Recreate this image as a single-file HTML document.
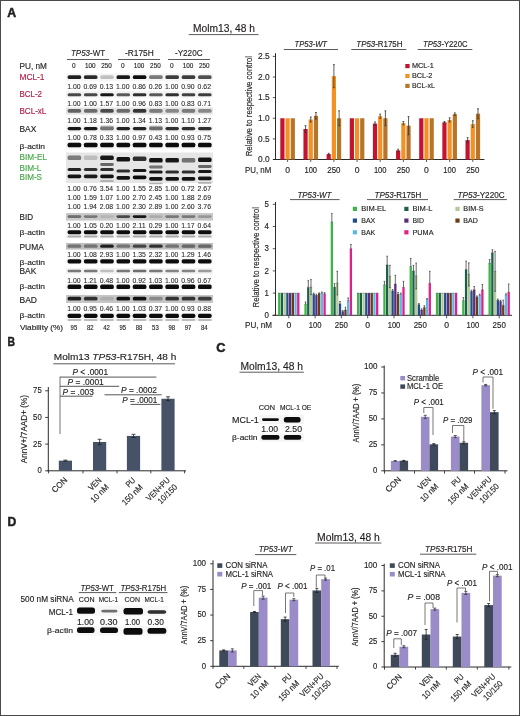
<!DOCTYPE html>
<html><head><meta charset="utf-8"><title>Figure</title>
<style>
html,body{margin:0;padding:0;background:#fff;}
#fig{position:relative;width:520px;height:716px;overflow:hidden;background:#fff;}
#fig svg{position:absolute;left:0;top:0;filter:blur(0.3px);}
text{font-family:"Liberation Sans",sans-serif;stroke:#231f20;stroke-width:0.15px;}
svg{fill:#231f20;}
</style></head><body>
<div id="fig">
<svg width="520" height="716" viewBox="0 0 520 716">
<defs><filter id="bl" x="-20%" y="-80%" width="140%" height="260%"><feGaussianBlur stdDeviation="0.65"/></filter></defs>
<rect x="0" y="0" width="520" height="716" fill="#fff"/>
<text x="7.30" y="17.00" font-size="12" font-weight="bold" textLength="8.90" lengthAdjust="spacingAndGlyphs" style="stroke-width:0.5px">A</text>
<text x="7.50" y="346.00" font-size="12" font-weight="bold" textLength="7.50" lengthAdjust="spacingAndGlyphs" style="stroke-width:0.5px">B</text>
<text x="216.30" y="352.00" font-size="12" font-weight="bold" textLength="9.20" lengthAdjust="spacingAndGlyphs" style="stroke-width:0.5px">C</text>
<text x="7.50" y="526.30" font-size="12" font-weight="bold" textLength="8.80" lengthAdjust="spacingAndGlyphs" style="stroke-width:0.5px">D</text>
<text x="193.10" y="31.70" font-size="10" textLength="61.90" lengthAdjust="spacingAndGlyphs">Molm13, 48 h</text>
<line x1="188.70" y1="34.60" x2="258.50" y2="34.60" stroke="#5a5a5a" stroke-width="1"/>
<text x="71.00" y="55.70" font-size="9.0" textLength="34.00" lengthAdjust="spacingAndGlyphs"><tspan font-style="italic">TP53</tspan>-WT</text>
<text x="125.00" y="55.70" font-size="9.0" textLength="28.75" lengthAdjust="spacingAndGlyphs">-R175H</text>
<text x="175.00" y="55.70" font-size="9.0" textLength="27.50" lengthAdjust="spacingAndGlyphs">-Y220C</text>
<line x1="67.00" y1="59.50" x2="109.00" y2="59.50" stroke="#5a5a5a" stroke-width="1"/>
<line x1="118.00" y1="59.50" x2="160.00" y2="59.50" stroke="#5a5a5a" stroke-width="1"/>
<line x1="168.00" y1="59.50" x2="210.00" y2="59.50" stroke="#5a5a5a" stroke-width="1"/>
<text x="19.50" y="68.50" font-size="8.4" textLength="27.50" lengthAdjust="spacingAndGlyphs">PU, nM</text>
<text x="73.90" y="68.30" font-size="7.0" text-anchor="middle" textLength="3.60" lengthAdjust="spacingAndGlyphs">0</text>
<text x="90.20" y="68.30" font-size="7.0" text-anchor="middle" textLength="10.60" lengthAdjust="spacingAndGlyphs">100</text>
<text x="106.50" y="68.30" font-size="7.0" text-anchor="middle" textLength="10.60" lengthAdjust="spacingAndGlyphs">250</text>
<text x="122.80" y="68.30" font-size="7.0" text-anchor="middle" textLength="3.60" lengthAdjust="spacingAndGlyphs">0</text>
<text x="139.10" y="68.30" font-size="7.0" text-anchor="middle" textLength="10.60" lengthAdjust="spacingAndGlyphs">100</text>
<text x="155.40" y="68.30" font-size="7.0" text-anchor="middle" textLength="10.60" lengthAdjust="spacingAndGlyphs">250</text>
<text x="171.70" y="68.30" font-size="7.0" text-anchor="middle" textLength="3.60" lengthAdjust="spacingAndGlyphs">0</text>
<text x="188.00" y="68.30" font-size="7.0" text-anchor="middle" textLength="10.60" lengthAdjust="spacingAndGlyphs">100</text>
<text x="204.30" y="68.30" font-size="7.0" text-anchor="middle" textLength="10.60" lengthAdjust="spacingAndGlyphs">250</text>
<text x="19.50" y="80.00" font-size="8.2" style="fill:#b81a42;stroke:#b81a42" textLength="25.00" lengthAdjust="spacingAndGlyphs">MCL-1</text>
<text x="19.50" y="97.40" font-size="8.2" style="fill:#b81a42;stroke:#b81a42" textLength="22.50" lengthAdjust="spacingAndGlyphs">BCL-2</text>
<text x="19.50" y="114.00" font-size="8.2" style="fill:#b81a42;stroke:#b81a42" textLength="26.80" lengthAdjust="spacingAndGlyphs">BCL-xL</text>
<text x="19.50" y="131.90" font-size="8.2" textLength="16.80" lengthAdjust="spacingAndGlyphs">BAX</text>
<text x="19.50" y="148.70" font-size="7.7" textLength="25.50" lengthAdjust="spacingAndGlyphs">β-actin</text>
<text x="19.50" y="159.50" font-size="8.2" style="fill:#45a847;stroke:#45a847" textLength="27.50" lengthAdjust="spacingAndGlyphs">BIM-EL</text>
<text x="19.50" y="170.60" font-size="8.2" style="fill:#45a847;stroke:#45a847" textLength="21.80" lengthAdjust="spacingAndGlyphs">BIM-L</text>
<text x="19.50" y="180.40" font-size="8.2" style="fill:#45a847;stroke:#45a847" textLength="22.50" lengthAdjust="spacingAndGlyphs">BIM-S</text>
<text x="19.50" y="219.50" font-size="8.2" textLength="13.50" lengthAdjust="spacingAndGlyphs">BID</text>
<text x="19.50" y="235.00" font-size="7.7" textLength="25.50" lengthAdjust="spacingAndGlyphs">β-actin</text>
<text x="19.50" y="250.00" font-size="8.2" textLength="24.30" lengthAdjust="spacingAndGlyphs">PUMA</text>
<text x="19.50" y="265.20" font-size="7.7" textLength="25.50" lengthAdjust="spacingAndGlyphs">β-actin</text>
<text x="19.50" y="274.00" font-size="8.2" textLength="16.80" lengthAdjust="spacingAndGlyphs">BAK</text>
<text x="19.50" y="289.30" font-size="7.7" textLength="25.50" lengthAdjust="spacingAndGlyphs">β-actin</text>
<text x="19.50" y="302.50" font-size="8.2" textLength="17.50" lengthAdjust="spacingAndGlyphs">BAD</text>
<text x="19.50" y="317.80" font-size="7.7" textLength="25.50" lengthAdjust="spacingAndGlyphs">β-actin</text>
<text x="20.00" y="330.20" font-size="7.8" textLength="43.00" lengthAdjust="spacingAndGlyphs">Viability (%)</text>
<text x="67.20" y="89.30" font-size="7.2" textLength="13.40" lengthAdjust="spacingAndGlyphs" style="stroke-width:0.08px">1.00</text>
<text x="83.50" y="89.30" font-size="7.2" textLength="13.40" lengthAdjust="spacingAndGlyphs" style="stroke-width:0.08px">0.69</text>
<text x="99.80" y="89.30" font-size="7.2" textLength="13.40" lengthAdjust="spacingAndGlyphs" style="stroke-width:0.08px">0.13</text>
<text x="116.10" y="89.30" font-size="7.2" textLength="13.40" lengthAdjust="spacingAndGlyphs" style="stroke-width:0.08px">1.00</text>
<text x="132.40" y="89.30" font-size="7.2" textLength="13.40" lengthAdjust="spacingAndGlyphs" style="stroke-width:0.08px">0.86</text>
<text x="148.70" y="89.30" font-size="7.2" textLength="13.40" lengthAdjust="spacingAndGlyphs" style="stroke-width:0.08px">0.26</text>
<text x="165.00" y="89.30" font-size="7.2" textLength="13.40" lengthAdjust="spacingAndGlyphs" style="stroke-width:0.08px">1.00</text>
<text x="181.30" y="89.30" font-size="7.2" textLength="13.40" lengthAdjust="spacingAndGlyphs" style="stroke-width:0.08px">0.90</text>
<text x="197.60" y="89.30" font-size="7.2" textLength="13.40" lengthAdjust="spacingAndGlyphs" style="stroke-width:0.08px">0.62</text>
<text x="67.20" y="106.30" font-size="7.2" textLength="13.40" lengthAdjust="spacingAndGlyphs" style="stroke-width:0.08px">1.00</text>
<text x="83.50" y="106.30" font-size="7.2" textLength="13.40" lengthAdjust="spacingAndGlyphs" style="stroke-width:0.08px">1.00</text>
<text x="99.80" y="106.30" font-size="7.2" textLength="13.40" lengthAdjust="spacingAndGlyphs" style="stroke-width:0.08px">1.57</text>
<text x="116.10" y="106.30" font-size="7.2" textLength="13.40" lengthAdjust="spacingAndGlyphs" style="stroke-width:0.08px">1.00</text>
<text x="132.40" y="106.30" font-size="7.2" textLength="13.40" lengthAdjust="spacingAndGlyphs" style="stroke-width:0.08px">0.96</text>
<text x="148.70" y="106.30" font-size="7.2" textLength="13.40" lengthAdjust="spacingAndGlyphs" style="stroke-width:0.08px">0.83</text>
<text x="165.00" y="106.30" font-size="7.2" textLength="13.40" lengthAdjust="spacingAndGlyphs" style="stroke-width:0.08px">1.00</text>
<text x="181.30" y="106.30" font-size="7.2" textLength="13.40" lengthAdjust="spacingAndGlyphs" style="stroke-width:0.08px">0.83</text>
<text x="197.60" y="106.30" font-size="7.2" textLength="13.40" lengthAdjust="spacingAndGlyphs" style="stroke-width:0.08px">0.71</text>
<text x="67.20" y="123.10" font-size="7.2" textLength="13.40" lengthAdjust="spacingAndGlyphs" style="stroke-width:0.08px">1.00</text>
<text x="83.50" y="123.10" font-size="7.2" textLength="13.40" lengthAdjust="spacingAndGlyphs" style="stroke-width:0.08px">1.18</text>
<text x="99.80" y="123.10" font-size="7.2" textLength="13.40" lengthAdjust="spacingAndGlyphs" style="stroke-width:0.08px">1.36</text>
<text x="116.10" y="123.10" font-size="7.2" textLength="13.40" lengthAdjust="spacingAndGlyphs" style="stroke-width:0.08px">1.00</text>
<text x="132.40" y="123.10" font-size="7.2" textLength="13.40" lengthAdjust="spacingAndGlyphs" style="stroke-width:0.08px">1.34</text>
<text x="148.70" y="123.10" font-size="7.2" textLength="13.40" lengthAdjust="spacingAndGlyphs" style="stroke-width:0.08px">1.13</text>
<text x="165.00" y="123.10" font-size="7.2" textLength="13.40" lengthAdjust="spacingAndGlyphs" style="stroke-width:0.08px">1.00</text>
<text x="181.30" y="123.10" font-size="7.2" textLength="13.40" lengthAdjust="spacingAndGlyphs" style="stroke-width:0.08px">1.10</text>
<text x="197.60" y="123.10" font-size="7.2" textLength="13.40" lengthAdjust="spacingAndGlyphs" style="stroke-width:0.08px">1.27</text>
<text x="67.20" y="140.30" font-size="7.2" textLength="13.40" lengthAdjust="spacingAndGlyphs" style="stroke-width:0.08px">1.00</text>
<text x="83.50" y="140.30" font-size="7.2" textLength="13.40" lengthAdjust="spacingAndGlyphs" style="stroke-width:0.08px">0.78</text>
<text x="99.80" y="140.30" font-size="7.2" textLength="13.40" lengthAdjust="spacingAndGlyphs" style="stroke-width:0.08px">0.33</text>
<text x="116.10" y="140.30" font-size="7.2" textLength="13.40" lengthAdjust="spacingAndGlyphs" style="stroke-width:0.08px">1.00</text>
<text x="132.40" y="140.30" font-size="7.2" textLength="13.40" lengthAdjust="spacingAndGlyphs" style="stroke-width:0.08px">0.97</text>
<text x="148.70" y="140.30" font-size="7.2" textLength="13.40" lengthAdjust="spacingAndGlyphs" style="stroke-width:0.08px">0.43</text>
<text x="165.00" y="140.30" font-size="7.2" textLength="13.40" lengthAdjust="spacingAndGlyphs" style="stroke-width:0.08px">1.00</text>
<text x="181.30" y="140.30" font-size="7.2" textLength="13.40" lengthAdjust="spacingAndGlyphs" style="stroke-width:0.08px">0.93</text>
<text x="197.60" y="140.30" font-size="7.2" textLength="13.40" lengthAdjust="spacingAndGlyphs" style="stroke-width:0.08px">0.75</text>
<text x="67.20" y="190.60" font-size="7.2" textLength="13.40" lengthAdjust="spacingAndGlyphs" style="stroke-width:0.08px">1.00</text>
<text x="83.50" y="190.60" font-size="7.2" textLength="13.40" lengthAdjust="spacingAndGlyphs" style="stroke-width:0.08px">0.76</text>
<text x="99.80" y="190.60" font-size="7.2" textLength="13.40" lengthAdjust="spacingAndGlyphs" style="stroke-width:0.08px">3.54</text>
<text x="116.10" y="190.60" font-size="7.2" textLength="13.40" lengthAdjust="spacingAndGlyphs" style="stroke-width:0.08px">1.00</text>
<text x="132.40" y="190.60" font-size="7.2" textLength="13.40" lengthAdjust="spacingAndGlyphs" style="stroke-width:0.08px">1.55</text>
<text x="148.70" y="190.60" font-size="7.2" textLength="13.40" lengthAdjust="spacingAndGlyphs" style="stroke-width:0.08px">2.85</text>
<text x="165.00" y="190.60" font-size="7.2" textLength="13.40" lengthAdjust="spacingAndGlyphs" style="stroke-width:0.08px">1.00</text>
<text x="181.30" y="190.60" font-size="7.2" textLength="13.40" lengthAdjust="spacingAndGlyphs" style="stroke-width:0.08px">0.72</text>
<text x="197.60" y="190.60" font-size="7.2" textLength="13.40" lengthAdjust="spacingAndGlyphs" style="stroke-width:0.08px">2.67</text>
<text x="67.20" y="199.80" font-size="7.2" textLength="13.40" lengthAdjust="spacingAndGlyphs" style="stroke-width:0.08px">1.00</text>
<text x="83.50" y="199.80" font-size="7.2" textLength="13.40" lengthAdjust="spacingAndGlyphs" style="stroke-width:0.08px">1.59</text>
<text x="99.80" y="199.80" font-size="7.2" textLength="13.40" lengthAdjust="spacingAndGlyphs" style="stroke-width:0.08px">1.07</text>
<text x="116.10" y="199.80" font-size="7.2" textLength="13.40" lengthAdjust="spacingAndGlyphs" style="stroke-width:0.08px">1.00</text>
<text x="132.40" y="199.80" font-size="7.2" textLength="13.40" lengthAdjust="spacingAndGlyphs" style="stroke-width:0.08px">2.70</text>
<text x="148.70" y="199.80" font-size="7.2" textLength="13.40" lengthAdjust="spacingAndGlyphs" style="stroke-width:0.08px">2.45</text>
<text x="165.00" y="199.80" font-size="7.2" textLength="13.40" lengthAdjust="spacingAndGlyphs" style="stroke-width:0.08px">1.00</text>
<text x="181.30" y="199.80" font-size="7.2" textLength="13.40" lengthAdjust="spacingAndGlyphs" style="stroke-width:0.08px">1.88</text>
<text x="197.60" y="199.80" font-size="7.2" textLength="13.40" lengthAdjust="spacingAndGlyphs" style="stroke-width:0.08px">2.69</text>
<text x="67.20" y="209.00" font-size="7.2" textLength="13.40" lengthAdjust="spacingAndGlyphs" style="stroke-width:0.08px">1.00</text>
<text x="83.50" y="209.00" font-size="7.2" textLength="13.40" lengthAdjust="spacingAndGlyphs" style="stroke-width:0.08px">1.94</text>
<text x="99.80" y="209.00" font-size="7.2" textLength="13.40" lengthAdjust="spacingAndGlyphs" style="stroke-width:0.08px">2.08</text>
<text x="116.10" y="209.00" font-size="7.2" textLength="13.40" lengthAdjust="spacingAndGlyphs" style="stroke-width:0.08px">1.00</text>
<text x="132.40" y="209.00" font-size="7.2" textLength="13.40" lengthAdjust="spacingAndGlyphs" style="stroke-width:0.08px">2.30</text>
<text x="148.70" y="209.00" font-size="7.2" textLength="13.40" lengthAdjust="spacingAndGlyphs" style="stroke-width:0.08px">2.89</text>
<text x="165.00" y="209.00" font-size="7.2" textLength="13.40" lengthAdjust="spacingAndGlyphs" style="stroke-width:0.08px">1.00</text>
<text x="181.30" y="209.00" font-size="7.2" textLength="13.40" lengthAdjust="spacingAndGlyphs" style="stroke-width:0.08px">2.60</text>
<text x="197.60" y="209.00" font-size="7.2" textLength="13.40" lengthAdjust="spacingAndGlyphs" style="stroke-width:0.08px">3.76</text>
<text x="67.20" y="228.10" font-size="7.2" textLength="13.40" lengthAdjust="spacingAndGlyphs" style="stroke-width:0.08px">1.00</text>
<text x="83.50" y="228.10" font-size="7.2" textLength="13.40" lengthAdjust="spacingAndGlyphs" style="stroke-width:0.08px">1.05</text>
<text x="99.80" y="228.10" font-size="7.2" textLength="13.40" lengthAdjust="spacingAndGlyphs" style="stroke-width:0.08px">0.20</text>
<text x="116.10" y="228.10" font-size="7.2" textLength="13.40" lengthAdjust="spacingAndGlyphs" style="stroke-width:0.08px">1.00</text>
<text x="132.40" y="228.10" font-size="7.2" textLength="13.40" lengthAdjust="spacingAndGlyphs" style="stroke-width:0.08px">2.11</text>
<text x="148.70" y="228.10" font-size="7.2" textLength="13.40" lengthAdjust="spacingAndGlyphs" style="stroke-width:0.08px">0.29</text>
<text x="165.00" y="228.10" font-size="7.2" textLength="13.40" lengthAdjust="spacingAndGlyphs" style="stroke-width:0.08px">1.00</text>
<text x="181.30" y="228.10" font-size="7.2" textLength="13.40" lengthAdjust="spacingAndGlyphs" style="stroke-width:0.08px">1.17</text>
<text x="197.60" y="228.10" font-size="7.2" textLength="13.40" lengthAdjust="spacingAndGlyphs" style="stroke-width:0.08px">0.64</text>
<text x="67.20" y="257.30" font-size="7.2" textLength="13.40" lengthAdjust="spacingAndGlyphs" style="stroke-width:0.08px">1.00</text>
<text x="83.50" y="257.30" font-size="7.2" textLength="13.40" lengthAdjust="spacingAndGlyphs" style="stroke-width:0.08px">1.08</text>
<text x="99.80" y="257.30" font-size="7.2" textLength="13.40" lengthAdjust="spacingAndGlyphs" style="stroke-width:0.08px">2.93</text>
<text x="116.10" y="257.30" font-size="7.2" textLength="13.40" lengthAdjust="spacingAndGlyphs" style="stroke-width:0.08px">1.00</text>
<text x="132.40" y="257.30" font-size="7.2" textLength="13.40" lengthAdjust="spacingAndGlyphs" style="stroke-width:0.08px">1.35</text>
<text x="148.70" y="257.30" font-size="7.2" textLength="13.40" lengthAdjust="spacingAndGlyphs" style="stroke-width:0.08px">2.32</text>
<text x="165.00" y="257.30" font-size="7.2" textLength="13.40" lengthAdjust="spacingAndGlyphs" style="stroke-width:0.08px">1.00</text>
<text x="181.30" y="257.30" font-size="7.2" textLength="13.40" lengthAdjust="spacingAndGlyphs" style="stroke-width:0.08px">1.29</text>
<text x="197.60" y="257.30" font-size="7.2" textLength="13.40" lengthAdjust="spacingAndGlyphs" style="stroke-width:0.08px">1.46</text>
<text x="67.20" y="283.00" font-size="7.2" textLength="13.40" lengthAdjust="spacingAndGlyphs" style="stroke-width:0.08px">1.00</text>
<text x="83.50" y="283.00" font-size="7.2" textLength="13.40" lengthAdjust="spacingAndGlyphs" style="stroke-width:0.08px">1.21</text>
<text x="99.80" y="283.00" font-size="7.2" textLength="13.40" lengthAdjust="spacingAndGlyphs" style="stroke-width:0.08px">0.48</text>
<text x="116.10" y="283.00" font-size="7.2" textLength="13.40" lengthAdjust="spacingAndGlyphs" style="stroke-width:0.08px">1.00</text>
<text x="132.40" y="283.00" font-size="7.2" textLength="13.40" lengthAdjust="spacingAndGlyphs" style="stroke-width:0.08px">0.92</text>
<text x="148.70" y="283.00" font-size="7.2" textLength="13.40" lengthAdjust="spacingAndGlyphs" style="stroke-width:0.08px">1.03</text>
<text x="165.00" y="283.00" font-size="7.2" textLength="13.40" lengthAdjust="spacingAndGlyphs" style="stroke-width:0.08px">1.00</text>
<text x="181.30" y="283.00" font-size="7.2" textLength="13.40" lengthAdjust="spacingAndGlyphs" style="stroke-width:0.08px">0.96</text>
<text x="197.60" y="283.00" font-size="7.2" textLength="13.40" lengthAdjust="spacingAndGlyphs" style="stroke-width:0.08px">0.67</text>
<text x="67.20" y="311.30" font-size="7.2" textLength="13.40" lengthAdjust="spacingAndGlyphs" style="stroke-width:0.08px">1.00</text>
<text x="83.50" y="311.30" font-size="7.2" textLength="13.40" lengthAdjust="spacingAndGlyphs" style="stroke-width:0.08px">0.95</text>
<text x="99.80" y="311.30" font-size="7.2" textLength="13.40" lengthAdjust="spacingAndGlyphs" style="stroke-width:0.08px">0.46</text>
<text x="116.10" y="311.30" font-size="7.2" textLength="13.40" lengthAdjust="spacingAndGlyphs" style="stroke-width:0.08px">1.00</text>
<text x="132.40" y="311.30" font-size="7.2" textLength="13.40" lengthAdjust="spacingAndGlyphs" style="stroke-width:0.08px">1.03</text>
<text x="148.70" y="311.30" font-size="7.2" textLength="13.40" lengthAdjust="spacingAndGlyphs" style="stroke-width:0.08px">0.37</text>
<text x="165.00" y="311.30" font-size="7.2" textLength="13.40" lengthAdjust="spacingAndGlyphs" style="stroke-width:0.08px">1.00</text>
<text x="181.30" y="311.30" font-size="7.2" textLength="13.40" lengthAdjust="spacingAndGlyphs" style="stroke-width:0.08px">0.93</text>
<text x="197.60" y="311.30" font-size="7.2" textLength="13.40" lengthAdjust="spacingAndGlyphs" style="stroke-width:0.08px">0.88</text>
<text x="73.90" y="330.40" font-size="6.9" text-anchor="middle" textLength="6.60" lengthAdjust="spacingAndGlyphs">95</text>
<text x="90.20" y="330.40" font-size="6.9" text-anchor="middle" textLength="6.60" lengthAdjust="spacingAndGlyphs">82</text>
<text x="106.50" y="330.40" font-size="6.9" text-anchor="middle" textLength="6.60" lengthAdjust="spacingAndGlyphs">42</text>
<text x="122.80" y="330.40" font-size="6.9" text-anchor="middle" textLength="6.60" lengthAdjust="spacingAndGlyphs">95</text>
<text x="139.10" y="330.40" font-size="6.9" text-anchor="middle" textLength="6.60" lengthAdjust="spacingAndGlyphs">88</text>
<text x="155.40" y="330.40" font-size="6.9" text-anchor="middle" textLength="6.60" lengthAdjust="spacingAndGlyphs">53</text>
<text x="171.70" y="330.40" font-size="6.9" text-anchor="middle" textLength="6.60" lengthAdjust="spacingAndGlyphs">98</text>
<text x="188.00" y="330.40" font-size="6.9" text-anchor="middle" textLength="6.60" lengthAdjust="spacingAndGlyphs">97</text>
<text x="204.30" y="330.40" font-size="6.9" text-anchor="middle" textLength="6.60" lengthAdjust="spacingAndGlyphs">84</text>
<rect x="66.00" y="73.20" width="147.00" height="8.00" fill="#f6f6f6"/>
<rect x="67.60" y="75.30" width="13.60" height="3.80" rx="1.60" ry="1.60" fill="#111" fill-opacity="0.92" filter="url(#bl)"/>
<rect x="83.90" y="75.30" width="13.60" height="3.80" rx="1.60" ry="1.60" fill="#111" fill-opacity="0.88" filter="url(#bl)"/>
<rect x="100.20" y="75.30" width="13.60" height="3.80" rx="1.60" ry="1.60" fill="#111" fill-opacity="0.22" filter="url(#bl)"/>
<rect x="116.50" y="75.30" width="13.60" height="3.80" rx="1.60" ry="1.60" fill="#111" fill-opacity="0.95" filter="url(#bl)"/>
<rect x="132.80" y="75.30" width="13.60" height="3.80" rx="1.60" ry="1.60" fill="#111" fill-opacity="1.00" filter="url(#bl)"/>
<rect x="149.10" y="75.30" width="13.60" height="3.80" rx="1.60" ry="1.60" fill="#111" fill-opacity="0.55" filter="url(#bl)"/>
<rect x="165.40" y="75.30" width="13.60" height="3.80" rx="1.60" ry="1.60" fill="#111" fill-opacity="0.80" filter="url(#bl)"/>
<rect x="181.70" y="75.30" width="13.60" height="3.80" rx="1.60" ry="1.60" fill="#111" fill-opacity="0.80" filter="url(#bl)"/>
<rect x="198.00" y="75.30" width="13.60" height="3.80" rx="1.60" ry="1.60" fill="#111" fill-opacity="0.72" filter="url(#bl)"/>
<rect x="66.00" y="90.80" width="147.00" height="6.80" fill="#f3f3f3"/>
<rect x="67.60" y="93.30" width="13.60" height="3.00" rx="1.50" ry="1.50" fill="#111" fill-opacity="0.75" filter="url(#bl)"/>
<rect x="83.90" y="93.30" width="13.60" height="3.00" rx="1.50" ry="1.50" fill="#111" fill-opacity="0.75" filter="url(#bl)"/>
<rect x="100.20" y="93.30" width="13.60" height="3.00" rx="1.50" ry="1.50" fill="#111" fill-opacity="0.95" filter="url(#bl)"/>
<rect x="116.50" y="93.30" width="13.60" height="3.00" rx="1.50" ry="1.50" fill="#111" fill-opacity="0.68" filter="url(#bl)"/>
<rect x="132.80" y="93.30" width="13.60" height="3.00" rx="1.50" ry="1.50" fill="#111" fill-opacity="0.85" filter="url(#bl)"/>
<rect x="149.10" y="93.30" width="13.60" height="3.00" rx="1.50" ry="1.50" fill="#111" fill-opacity="0.68" filter="url(#bl)"/>
<rect x="165.40" y="93.30" width="13.60" height="3.00" rx="1.50" ry="1.50" fill="#111" fill-opacity="0.85" filter="url(#bl)"/>
<rect x="181.70" y="93.30" width="13.60" height="3.00" rx="1.50" ry="1.50" fill="#111" fill-opacity="0.78" filter="url(#bl)"/>
<rect x="198.00" y="93.30" width="13.60" height="3.00" rx="1.50" ry="1.50" fill="#111" fill-opacity="0.80" filter="url(#bl)"/>
<rect x="66.00" y="107.40" width="147.00" height="7.20" fill="#e4e4e4"/>
<rect x="67.60" y="109.10" width="13.60" height="3.60" rx="1.60" ry="1.60" fill="#111" fill-opacity="0.62" filter="url(#bl)"/>
<rect x="83.90" y="109.10" width="13.60" height="3.60" rx="1.60" ry="1.60" fill="#111" fill-opacity="0.58" filter="url(#bl)"/>
<rect x="100.20" y="109.10" width="13.60" height="3.60" rx="1.60" ry="1.60" fill="#111" fill-opacity="0.72" filter="url(#bl)"/>
<rect x="116.50" y="109.10" width="13.60" height="3.60" rx="1.60" ry="1.60" fill="#111" fill-opacity="0.58" filter="url(#bl)"/>
<rect x="132.80" y="109.10" width="13.60" height="3.60" rx="1.60" ry="1.60" fill="#111" fill-opacity="0.82" filter="url(#bl)"/>
<rect x="149.10" y="109.10" width="13.60" height="3.60" rx="1.60" ry="1.60" fill="#111" fill-opacity="0.50" filter="url(#bl)"/>
<rect x="165.40" y="109.10" width="13.60" height="3.60" rx="1.60" ry="1.60" fill="#111" fill-opacity="0.45" filter="url(#bl)"/>
<rect x="181.70" y="109.10" width="13.60" height="3.60" rx="1.60" ry="1.60" fill="#111" fill-opacity="0.50" filter="url(#bl)"/>
<rect x="198.00" y="109.10" width="13.60" height="3.60" rx="1.60" ry="1.60" fill="#111" fill-opacity="0.45" filter="url(#bl)"/>
<rect x="66.00" y="125.20" width="147.00" height="6.80" fill="#f2f2f2"/>
<rect x="67.60" y="127.00" width="13.60" height="3.20" rx="1.60" ry="1.60" fill="#111" fill-opacity="0.95" filter="url(#bl)"/>
<rect x="83.90" y="127.00" width="13.60" height="3.20" rx="1.60" ry="1.60" fill="#111" fill-opacity="0.95" filter="url(#bl)"/>
<rect x="100.20" y="127.00" width="13.60" height="3.20" rx="1.60" ry="1.60" fill="#111" fill-opacity="0.35" filter="url(#bl)"/>
<rect x="116.50" y="127.00" width="13.60" height="3.20" rx="1.60" ry="1.60" fill="#111" fill-opacity="0.90" filter="url(#bl)"/>
<rect x="132.80" y="127.00" width="13.60" height="3.20" rx="1.60" ry="1.60" fill="#111" fill-opacity="0.90" filter="url(#bl)"/>
<rect x="149.10" y="127.00" width="13.60" height="3.20" rx="1.60" ry="1.60" fill="#111" fill-opacity="0.40" filter="url(#bl)"/>
<rect x="165.40" y="127.00" width="13.60" height="3.20" rx="1.60" ry="1.60" fill="#111" fill-opacity="0.85" filter="url(#bl)"/>
<rect x="181.70" y="127.00" width="13.60" height="3.20" rx="1.60" ry="1.60" fill="#111" fill-opacity="0.85" filter="url(#bl)"/>
<rect x="198.00" y="127.00" width="13.60" height="3.20" rx="1.60" ry="1.60" fill="#111" fill-opacity="0.85" filter="url(#bl)"/>
<rect x="100.20" y="125.75" width="13.60" height="4.50" rx="1.60" ry="1.60" fill="#111" fill-opacity="0.35" filter="url(#bl)"/>
<rect x="149.10" y="125.75" width="13.60" height="4.50" rx="1.60" ry="1.60" fill="#111" fill-opacity="0.30" filter="url(#bl)"/>
<rect x="66.00" y="142.20" width="147.00" height="7.00" fill="#f5f5f5"/>
<rect x="67.60" y="142.70" width="13.60" height="4.60" rx="1.60" ry="1.60" fill="#111" fill-opacity="1.00" filter="url(#bl)"/>
<rect x="83.90" y="142.70" width="13.60" height="4.60" rx="1.60" ry="1.60" fill="#111" fill-opacity="1.00" filter="url(#bl)"/>
<rect x="100.20" y="142.70" width="13.60" height="4.60" rx="1.60" ry="1.60" fill="#111" fill-opacity="1.00" filter="url(#bl)"/>
<rect x="116.50" y="142.70" width="13.60" height="4.60" rx="1.60" ry="1.60" fill="#111" fill-opacity="1.00" filter="url(#bl)"/>
<rect x="132.80" y="142.70" width="13.60" height="4.60" rx="1.60" ry="1.60" fill="#111" fill-opacity="1.00" filter="url(#bl)"/>
<rect x="149.10" y="142.70" width="13.60" height="4.60" rx="1.60" ry="1.60" fill="#111" fill-opacity="1.00" filter="url(#bl)"/>
<rect x="165.40" y="142.70" width="13.60" height="4.60" rx="1.60" ry="1.60" fill="#111" fill-opacity="1.00" filter="url(#bl)"/>
<rect x="181.70" y="142.70" width="13.60" height="4.60" rx="1.60" ry="1.60" fill="#111" fill-opacity="1.00" filter="url(#bl)"/>
<rect x="198.00" y="142.70" width="13.60" height="4.60" rx="1.60" ry="1.60" fill="#111" fill-opacity="1.00" filter="url(#bl)"/>
<rect x="66.00" y="152.50" width="147.00" height="30.50" fill="#e6e6e6"/>
<rect x="67.60" y="155.60" width="13.60" height="4.40" rx="1.60" ry="1.60" fill="#111" fill-opacity="0.50" filter="url(#bl)"/>
<rect x="83.90" y="155.60" width="13.60" height="4.40" rx="1.60" ry="1.60" fill="#111" fill-opacity="0.18" filter="url(#bl)"/>
<rect x="100.20" y="155.60" width="13.60" height="4.40" rx="1.60" ry="1.60" fill="#111" fill-opacity="0.95" filter="url(#bl)"/>
<rect x="116.50" y="157.10" width="13.60" height="4.40" rx="1.60" ry="1.60" fill="#111" fill-opacity="0.97" filter="url(#bl)"/>
<rect x="132.80" y="156.60" width="13.60" height="4.40" rx="1.60" ry="1.60" fill="#111" fill-opacity="0.85" filter="url(#bl)"/>
<rect x="149.10" y="158.10" width="13.60" height="4.40" rx="1.60" ry="1.60" fill="#111" fill-opacity="0.97" filter="url(#bl)"/>
<rect x="165.40" y="158.10" width="13.60" height="4.40" rx="1.60" ry="1.60" fill="#111" fill-opacity="0.95" filter="url(#bl)"/>
<rect x="181.70" y="158.10" width="13.60" height="4.40" rx="1.60" ry="1.60" fill="#111" fill-opacity="0.55" filter="url(#bl)"/>
<rect x="198.00" y="157.60" width="13.60" height="4.40" rx="1.60" ry="1.60" fill="#111" fill-opacity="0.97" filter="url(#bl)"/>
<rect x="100.20" y="163.10" width="13.60" height="2.80" rx="1.40" ry="1.40" fill="#111" fill-opacity="0.60" filter="url(#bl)"/>
<rect x="149.10" y="165.60" width="13.60" height="2.80" rx="1.40" ry="1.40" fill="#111" fill-opacity="0.55" filter="url(#bl)"/>
<rect x="198.00" y="165.10" width="13.60" height="2.80" rx="1.40" ry="1.40" fill="#111" fill-opacity="0.60" filter="url(#bl)"/>
<rect x="67.60" y="167.90" width="13.60" height="3.20" rx="1.60" ry="1.60" fill="#111" fill-opacity="0.90" filter="url(#bl)"/>
<rect x="83.90" y="167.90" width="13.60" height="3.20" rx="1.60" ry="1.60" fill="#111" fill-opacity="0.85" filter="url(#bl)"/>
<rect x="100.20" y="167.90" width="13.60" height="3.20" rx="1.60" ry="1.60" fill="#111" fill-opacity="0.85" filter="url(#bl)"/>
<rect x="116.50" y="169.40" width="13.60" height="3.20" rx="1.60" ry="1.60" fill="#111" fill-opacity="0.85" filter="url(#bl)"/>
<rect x="132.80" y="168.90" width="13.60" height="3.20" rx="1.60" ry="1.60" fill="#111" fill-opacity="0.95" filter="url(#bl)"/>
<rect x="149.10" y="170.40" width="13.60" height="3.20" rx="1.60" ry="1.60" fill="#111" fill-opacity="0.95" filter="url(#bl)"/>
<rect x="165.40" y="170.40" width="13.60" height="3.20" rx="1.60" ry="1.60" fill="#111" fill-opacity="0.85" filter="url(#bl)"/>
<rect x="181.70" y="170.40" width="13.60" height="3.20" rx="1.60" ry="1.60" fill="#111" fill-opacity="0.85" filter="url(#bl)"/>
<rect x="198.00" y="169.90" width="13.60" height="3.20" rx="1.60" ry="1.60" fill="#111" fill-opacity="0.95" filter="url(#bl)"/>
<rect x="67.60" y="174.40" width="13.60" height="3.80" rx="1.60" ry="1.60" fill="#111" fill-opacity="0.97" filter="url(#bl)"/>
<rect x="83.90" y="174.40" width="13.60" height="3.80" rx="1.60" ry="1.60" fill="#111" fill-opacity="0.93" filter="url(#bl)"/>
<rect x="100.20" y="174.40" width="13.60" height="3.80" rx="1.60" ry="1.60" fill="#111" fill-opacity="0.97" filter="url(#bl)"/>
<rect x="116.50" y="175.90" width="13.60" height="3.80" rx="1.60" ry="1.60" fill="#111" fill-opacity="0.97" filter="url(#bl)"/>
<rect x="132.80" y="175.40" width="13.60" height="3.80" rx="1.60" ry="1.60" fill="#111" fill-opacity="1.00" filter="url(#bl)"/>
<rect x="149.10" y="176.90" width="13.60" height="3.80" rx="1.60" ry="1.60" fill="#111" fill-opacity="0.97" filter="url(#bl)"/>
<rect x="165.40" y="176.90" width="13.60" height="3.80" rx="1.60" ry="1.60" fill="#111" fill-opacity="0.97" filter="url(#bl)"/>
<rect x="181.70" y="176.90" width="13.60" height="3.80" rx="1.60" ry="1.60" fill="#111" fill-opacity="0.97" filter="url(#bl)"/>
<rect x="198.00" y="176.40" width="13.60" height="3.80" rx="1.60" ry="1.60" fill="#111" fill-opacity="0.97" filter="url(#bl)"/>
<rect x="100.20" y="180.20" width="13.60" height="1.60" rx="0.80" ry="0.80" fill="#111" fill-opacity="0.30" filter="url(#bl)"/>
<rect x="149.10" y="182.70" width="13.60" height="1.60" rx="0.80" ry="0.80" fill="#111" fill-opacity="0.30" filter="url(#bl)"/>
<rect x="198.00" y="182.20" width="13.60" height="1.60" rx="0.80" ry="0.80" fill="#111" fill-opacity="0.30" filter="url(#bl)"/>
<rect x="66.00" y="213.00" width="147.00" height="7.60" fill="#c9c9c9"/>
<rect x="67.60" y="215.20" width="13.60" height="2.80" rx="1.40" ry="1.40" fill="#111" fill-opacity="0.50" filter="url(#bl)"/>
<rect x="83.90" y="215.20" width="13.60" height="2.80" rx="1.40" ry="1.40" fill="#111" fill-opacity="0.45" filter="url(#bl)"/>
<rect x="100.20" y="215.20" width="13.60" height="2.80" rx="1.40" ry="1.40" fill="#111" fill-opacity="0.10" filter="url(#bl)"/>
<rect x="116.50" y="215.20" width="13.60" height="2.80" rx="1.40" ry="1.40" fill="#111" fill-opacity="0.70" filter="url(#bl)"/>
<rect x="132.80" y="215.20" width="13.60" height="2.80" rx="1.40" ry="1.40" fill="#111" fill-opacity="0.95" filter="url(#bl)"/>
<rect x="149.10" y="215.20" width="13.60" height="2.80" rx="1.40" ry="1.40" fill="#111" fill-opacity="0.15" filter="url(#bl)"/>
<rect x="165.40" y="215.20" width="13.60" height="2.80" rx="1.40" ry="1.40" fill="#111" fill-opacity="0.45" filter="url(#bl)"/>
<rect x="181.70" y="215.20" width="13.60" height="2.80" rx="1.40" ry="1.40" fill="#111" fill-opacity="0.45" filter="url(#bl)"/>
<rect x="198.00" y="215.20" width="13.60" height="2.80" rx="1.40" ry="1.40" fill="#111" fill-opacity="0.25" filter="url(#bl)"/>
<rect x="66.00" y="229.50" width="147.00" height="8.80" fill="#f4f4f4"/>
<rect x="67.60" y="230.20" width="13.60" height="4.00" rx="1.60" ry="1.60" fill="#111" fill-opacity="1.00" filter="url(#bl)"/>
<rect x="83.90" y="230.20" width="13.60" height="4.00" rx="1.60" ry="1.60" fill="#111" fill-opacity="1.00" filter="url(#bl)"/>
<rect x="100.20" y="230.20" width="13.60" height="4.00" rx="1.60" ry="1.60" fill="#111" fill-opacity="1.00" filter="url(#bl)"/>
<rect x="116.50" y="230.20" width="13.60" height="4.00" rx="1.60" ry="1.60" fill="#111" fill-opacity="1.00" filter="url(#bl)"/>
<rect x="132.80" y="230.20" width="13.60" height="4.00" rx="1.60" ry="1.60" fill="#111" fill-opacity="1.00" filter="url(#bl)"/>
<rect x="149.10" y="230.20" width="13.60" height="4.00" rx="1.60" ry="1.60" fill="#111" fill-opacity="1.00" filter="url(#bl)"/>
<rect x="165.40" y="230.20" width="13.60" height="4.00" rx="1.60" ry="1.60" fill="#111" fill-opacity="1.00" filter="url(#bl)"/>
<rect x="181.70" y="230.20" width="13.60" height="4.00" rx="1.60" ry="1.60" fill="#111" fill-opacity="1.00" filter="url(#bl)"/>
<rect x="198.00" y="230.20" width="13.60" height="4.00" rx="1.60" ry="1.60" fill="#111" fill-opacity="1.00" filter="url(#bl)"/>
<rect x="67.60" y="235.60" width="13.60" height="1.80" rx="0.90" ry="0.90" fill="#111" fill-opacity="0.30" filter="url(#bl)"/>
<rect x="83.90" y="235.60" width="13.60" height="1.80" rx="0.90" ry="0.90" fill="#111" fill-opacity="0.30" filter="url(#bl)"/>
<rect x="100.20" y="235.60" width="13.60" height="1.80" rx="0.90" ry="0.90" fill="#111" fill-opacity="0.30" filter="url(#bl)"/>
<rect x="116.50" y="235.60" width="13.60" height="1.80" rx="0.90" ry="0.90" fill="#111" fill-opacity="0.30" filter="url(#bl)"/>
<rect x="132.80" y="235.60" width="13.60" height="1.80" rx="0.90" ry="0.90" fill="#111" fill-opacity="0.30" filter="url(#bl)"/>
<rect x="149.10" y="235.60" width="13.60" height="1.80" rx="0.90" ry="0.90" fill="#111" fill-opacity="0.30" filter="url(#bl)"/>
<rect x="165.40" y="235.60" width="13.60" height="1.80" rx="0.90" ry="0.90" fill="#111" fill-opacity="0.30" filter="url(#bl)"/>
<rect x="181.70" y="235.60" width="13.60" height="1.80" rx="0.90" ry="0.90" fill="#111" fill-opacity="0.30" filter="url(#bl)"/>
<rect x="198.00" y="235.60" width="13.60" height="1.80" rx="0.90" ry="0.90" fill="#111" fill-opacity="0.30" filter="url(#bl)"/>
<rect x="66.00" y="243.00" width="147.00" height="6.60" fill="#bebebe"/>
<rect x="67.60" y="244.60" width="13.60" height="3.20" rx="1.60" ry="1.60" fill="#111" fill-opacity="0.45" filter="url(#bl)"/>
<rect x="83.90" y="244.60" width="13.60" height="3.20" rx="1.60" ry="1.60" fill="#111" fill-opacity="0.45" filter="url(#bl)"/>
<rect x="100.20" y="244.60" width="13.60" height="3.20" rx="1.60" ry="1.60" fill="#111" fill-opacity="0.90" filter="url(#bl)"/>
<rect x="116.50" y="244.60" width="13.60" height="3.20" rx="1.60" ry="1.60" fill="#111" fill-opacity="0.45" filter="url(#bl)"/>
<rect x="132.80" y="244.60" width="13.60" height="3.20" rx="1.60" ry="1.60" fill="#111" fill-opacity="0.70" filter="url(#bl)"/>
<rect x="149.10" y="244.60" width="13.60" height="3.20" rx="1.60" ry="1.60" fill="#111" fill-opacity="0.80" filter="url(#bl)"/>
<rect x="165.40" y="244.60" width="13.60" height="3.20" rx="1.60" ry="1.60" fill="#111" fill-opacity="0.45" filter="url(#bl)"/>
<rect x="181.70" y="244.60" width="13.60" height="3.20" rx="1.60" ry="1.60" fill="#111" fill-opacity="0.50" filter="url(#bl)"/>
<rect x="198.00" y="244.60" width="13.60" height="3.20" rx="1.60" ry="1.60" fill="#111" fill-opacity="0.50" filter="url(#bl)"/>
<rect x="66.00" y="258.60" width="147.00" height="5.80" fill="#f5f5f5"/>
<rect x="67.60" y="259.20" width="13.60" height="4.20" rx="1.60" ry="1.60" fill="#111" fill-opacity="1.00" filter="url(#bl)"/>
<rect x="83.90" y="259.20" width="13.60" height="4.20" rx="1.60" ry="1.60" fill="#111" fill-opacity="1.00" filter="url(#bl)"/>
<rect x="100.20" y="259.20" width="13.60" height="4.20" rx="1.60" ry="1.60" fill="#111" fill-opacity="1.00" filter="url(#bl)"/>
<rect x="116.50" y="259.20" width="13.60" height="4.20" rx="1.60" ry="1.60" fill="#111" fill-opacity="1.00" filter="url(#bl)"/>
<rect x="132.80" y="259.20" width="13.60" height="4.20" rx="1.60" ry="1.60" fill="#111" fill-opacity="1.00" filter="url(#bl)"/>
<rect x="149.10" y="259.20" width="13.60" height="4.20" rx="1.60" ry="1.60" fill="#111" fill-opacity="1.00" filter="url(#bl)"/>
<rect x="165.40" y="259.20" width="13.60" height="4.20" rx="1.60" ry="1.60" fill="#111" fill-opacity="1.00" filter="url(#bl)"/>
<rect x="181.70" y="259.20" width="13.60" height="4.20" rx="1.60" ry="1.60" fill="#111" fill-opacity="1.00" filter="url(#bl)"/>
<rect x="198.00" y="259.20" width="13.60" height="4.20" rx="1.60" ry="1.60" fill="#111" fill-opacity="1.00" filter="url(#bl)"/>
<rect x="66.00" y="268.00" width="147.00" height="6.20" fill="#f3f3f3"/>
<rect x="67.60" y="269.80" width="13.60" height="2.40" rx="1.20" ry="1.20" fill="#111" fill-opacity="0.55" filter="url(#bl)"/>
<rect x="83.90" y="269.80" width="13.60" height="2.40" rx="1.20" ry="1.20" fill="#111" fill-opacity="0.55" filter="url(#bl)"/>
<rect x="100.20" y="269.80" width="13.60" height="2.40" rx="1.20" ry="1.20" fill="#111" fill-opacity="0.22" filter="url(#bl)"/>
<rect x="116.50" y="269.80" width="13.60" height="2.40" rx="1.20" ry="1.20" fill="#111" fill-opacity="0.55" filter="url(#bl)"/>
<rect x="132.80" y="269.80" width="13.60" height="2.40" rx="1.20" ry="1.20" fill="#111" fill-opacity="0.60" filter="url(#bl)"/>
<rect x="149.10" y="269.80" width="13.60" height="2.40" rx="1.20" ry="1.20" fill="#111" fill-opacity="0.55" filter="url(#bl)"/>
<rect x="165.40" y="269.80" width="13.60" height="2.40" rx="1.20" ry="1.20" fill="#111" fill-opacity="0.50" filter="url(#bl)"/>
<rect x="181.70" y="269.80" width="13.60" height="2.40" rx="1.20" ry="1.20" fill="#111" fill-opacity="0.50" filter="url(#bl)"/>
<rect x="198.00" y="269.80" width="13.60" height="2.40" rx="1.20" ry="1.20" fill="#111" fill-opacity="0.40" filter="url(#bl)"/>
<rect x="66.00" y="284.00" width="147.00" height="6.20" fill="#f5f5f5"/>
<rect x="67.60" y="284.60" width="13.60" height="4.40" rx="1.60" ry="1.60" fill="#111" fill-opacity="1.00" filter="url(#bl)"/>
<rect x="83.90" y="284.60" width="13.60" height="4.40" rx="1.60" ry="1.60" fill="#111" fill-opacity="1.00" filter="url(#bl)"/>
<rect x="100.20" y="284.60" width="13.60" height="4.40" rx="1.60" ry="1.60" fill="#111" fill-opacity="1.00" filter="url(#bl)"/>
<rect x="116.50" y="284.60" width="13.60" height="4.40" rx="1.60" ry="1.60" fill="#111" fill-opacity="1.00" filter="url(#bl)"/>
<rect x="132.80" y="284.60" width="13.60" height="4.40" rx="1.60" ry="1.60" fill="#111" fill-opacity="1.00" filter="url(#bl)"/>
<rect x="149.10" y="284.60" width="13.60" height="4.40" rx="1.60" ry="1.60" fill="#111" fill-opacity="1.00" filter="url(#bl)"/>
<rect x="165.40" y="284.60" width="13.60" height="4.40" rx="1.60" ry="1.60" fill="#111" fill-opacity="1.00" filter="url(#bl)"/>
<rect x="181.70" y="284.60" width="13.60" height="4.40" rx="1.60" ry="1.60" fill="#111" fill-opacity="1.00" filter="url(#bl)"/>
<rect x="198.00" y="284.60" width="13.60" height="4.40" rx="1.60" ry="1.60" fill="#111" fill-opacity="1.00" filter="url(#bl)"/>
<rect x="66.00" y="295.00" width="147.00" height="8.00" fill="#c6c6c6"/>
<rect x="67.60" y="296.70" width="13.60" height="3.80" rx="1.60" ry="1.60" fill="#111" fill-opacity="0.90" filter="url(#bl)"/>
<rect x="83.90" y="296.70" width="13.60" height="3.80" rx="1.60" ry="1.60" fill="#111" fill-opacity="0.80" filter="url(#bl)"/>
<rect x="100.20" y="296.70" width="13.60" height="3.80" rx="1.60" ry="1.60" fill="#111" fill-opacity="0.12" filter="url(#bl)"/>
<rect x="116.50" y="296.70" width="13.60" height="3.80" rx="1.60" ry="1.60" fill="#111" fill-opacity="0.97" filter="url(#bl)"/>
<rect x="132.80" y="296.70" width="13.60" height="3.80" rx="1.60" ry="1.60" fill="#111" fill-opacity="0.97" filter="url(#bl)"/>
<rect x="149.10" y="296.70" width="13.60" height="3.80" rx="1.60" ry="1.60" fill="#111" fill-opacity="0.30" filter="url(#bl)"/>
<rect x="165.40" y="296.70" width="13.60" height="3.80" rx="1.60" ry="1.60" fill="#111" fill-opacity="0.80" filter="url(#bl)"/>
<rect x="181.70" y="296.70" width="13.60" height="3.80" rx="1.60" ry="1.60" fill="#111" fill-opacity="0.80" filter="url(#bl)"/>
<rect x="198.00" y="296.70" width="13.60" height="3.80" rx="1.60" ry="1.60" fill="#111" fill-opacity="0.75" filter="url(#bl)"/>
<rect x="66.00" y="313.00" width="147.00" height="8.20" fill="#f5f5f5"/>
<rect x="67.60" y="313.70" width="13.60" height="4.20" rx="1.60" ry="1.60" fill="#111" fill-opacity="1.00" filter="url(#bl)"/>
<rect x="83.90" y="313.70" width="13.60" height="4.20" rx="1.60" ry="1.60" fill="#111" fill-opacity="1.00" filter="url(#bl)"/>
<rect x="100.20" y="313.70" width="13.60" height="4.20" rx="1.60" ry="1.60" fill="#111" fill-opacity="1.00" filter="url(#bl)"/>
<rect x="116.50" y="313.70" width="13.60" height="4.20" rx="1.60" ry="1.60" fill="#111" fill-opacity="1.00" filter="url(#bl)"/>
<rect x="132.80" y="313.70" width="13.60" height="4.20" rx="1.60" ry="1.60" fill="#111" fill-opacity="1.00" filter="url(#bl)"/>
<rect x="149.10" y="313.70" width="13.60" height="4.20" rx="1.60" ry="1.60" fill="#111" fill-opacity="1.00" filter="url(#bl)"/>
<rect x="165.40" y="313.70" width="13.60" height="4.20" rx="1.60" ry="1.60" fill="#111" fill-opacity="1.00" filter="url(#bl)"/>
<rect x="181.70" y="313.70" width="13.60" height="4.20" rx="1.60" ry="1.60" fill="#111" fill-opacity="1.00" filter="url(#bl)"/>
<rect x="198.00" y="313.70" width="13.60" height="4.20" rx="1.60" ry="1.60" fill="#111" fill-opacity="1.00" filter="url(#bl)"/>
<rect x="67.60" y="319.30" width="13.60" height="1.40" rx="0.70" ry="0.70" fill="#111" fill-opacity="0.30" filter="url(#bl)"/>
<rect x="83.90" y="319.30" width="13.60" height="1.40" rx="0.70" ry="0.70" fill="#111" fill-opacity="0.30" filter="url(#bl)"/>
<rect x="100.20" y="319.30" width="13.60" height="1.40" rx="0.70" ry="0.70" fill="#111" fill-opacity="0.30" filter="url(#bl)"/>
<rect x="116.50" y="319.30" width="13.60" height="1.40" rx="0.70" ry="0.70" fill="#111" fill-opacity="0.30" filter="url(#bl)"/>
<rect x="132.80" y="319.30" width="13.60" height="1.40" rx="0.70" ry="0.70" fill="#111" fill-opacity="0.30" filter="url(#bl)"/>
<rect x="149.10" y="319.30" width="13.60" height="1.40" rx="0.70" ry="0.70" fill="#111" fill-opacity="0.30" filter="url(#bl)"/>
<rect x="165.40" y="319.30" width="13.60" height="1.40" rx="0.70" ry="0.70" fill="#111" fill-opacity="0.30" filter="url(#bl)"/>
<rect x="181.70" y="319.30" width="13.60" height="1.40" rx="0.70" ry="0.70" fill="#111" fill-opacity="0.30" filter="url(#bl)"/>
<rect x="198.00" y="319.30" width="13.60" height="1.40" rx="0.70" ry="0.70" fill="#111" fill-opacity="0.30" filter="url(#bl)"/>
<line x1="275.50" y1="53.20" x2="275.50" y2="159.90" stroke="#2b2b2b" stroke-width="1"/>
<line x1="273.00" y1="159.50" x2="484.40" y2="159.50" stroke="#2b2b2b" stroke-width="1"/>
<line x1="272.80" y1="159.50" x2="275.50" y2="159.50" stroke="#2b2b2b" stroke-width="0.8"/>
<text x="269.60" y="162.30" font-size="8.4" text-anchor="end" textLength="11.60" lengthAdjust="spacingAndGlyphs">0.0</text>
<line x1="272.80" y1="138.88" x2="275.50" y2="138.88" stroke="#2b2b2b" stroke-width="0.8"/>
<text x="269.60" y="141.68" font-size="8.4" text-anchor="end" textLength="11.60" lengthAdjust="spacingAndGlyphs">0.5</text>
<line x1="272.80" y1="118.25" x2="275.50" y2="118.25" stroke="#2b2b2b" stroke-width="0.8"/>
<text x="269.60" y="121.05" font-size="8.4" text-anchor="end" textLength="11.60" lengthAdjust="spacingAndGlyphs">1.0</text>
<line x1="272.80" y1="97.62" x2="275.50" y2="97.62" stroke="#2b2b2b" stroke-width="0.8"/>
<text x="269.60" y="100.42" font-size="8.4" text-anchor="end" textLength="11.60" lengthAdjust="spacingAndGlyphs">1.5</text>
<line x1="272.80" y1="77.00" x2="275.50" y2="77.00" stroke="#2b2b2b" stroke-width="0.8"/>
<text x="269.60" y="79.80" font-size="8.4" text-anchor="end" textLength="11.60" lengthAdjust="spacingAndGlyphs">2.0</text>
<line x1="272.80" y1="56.38" x2="275.50" y2="56.38" stroke="#2b2b2b" stroke-width="0.8"/>
<text x="269.60" y="59.17" font-size="8.4" text-anchor="end" textLength="11.60" lengthAdjust="spacingAndGlyphs">2.5</text>
<line x1="287.60" y1="159.50" x2="287.60" y2="161.90" stroke="#2b2b2b" stroke-width="0.8"/>
<text x="287.60" y="172.70" font-size="8.3" text-anchor="middle" textLength="4.80" lengthAdjust="spacingAndGlyphs">0</text>
<line x1="310.75" y1="159.50" x2="310.75" y2="161.90" stroke="#2b2b2b" stroke-width="0.8"/>
<text x="310.75" y="172.70" font-size="8.3" text-anchor="middle" textLength="12.60" lengthAdjust="spacingAndGlyphs">100</text>
<line x1="333.90" y1="159.50" x2="333.90" y2="161.90" stroke="#2b2b2b" stroke-width="0.8"/>
<text x="333.90" y="172.70" font-size="8.3" text-anchor="middle" textLength="13.20" lengthAdjust="spacingAndGlyphs">250</text>
<line x1="357.05" y1="159.50" x2="357.05" y2="161.90" stroke="#2b2b2b" stroke-width="0.8"/>
<text x="357.05" y="172.70" font-size="8.3" text-anchor="middle" textLength="4.80" lengthAdjust="spacingAndGlyphs">0</text>
<line x1="380.20" y1="159.50" x2="380.20" y2="161.90" stroke="#2b2b2b" stroke-width="0.8"/>
<text x="380.20" y="172.70" font-size="8.3" text-anchor="middle" textLength="12.60" lengthAdjust="spacingAndGlyphs">100</text>
<line x1="403.35" y1="159.50" x2="403.35" y2="161.90" stroke="#2b2b2b" stroke-width="0.8"/>
<text x="403.35" y="172.70" font-size="8.3" text-anchor="middle" textLength="13.20" lengthAdjust="spacingAndGlyphs">250</text>
<line x1="426.50" y1="159.50" x2="426.50" y2="161.90" stroke="#2b2b2b" stroke-width="0.8"/>
<text x="426.50" y="172.70" font-size="8.3" text-anchor="middle" textLength="4.80" lengthAdjust="spacingAndGlyphs">0</text>
<line x1="449.65" y1="159.50" x2="449.65" y2="161.90" stroke="#2b2b2b" stroke-width="0.8"/>
<text x="449.65" y="172.70" font-size="8.3" text-anchor="middle" textLength="12.60" lengthAdjust="spacingAndGlyphs">100</text>
<line x1="472.80" y1="159.50" x2="472.80" y2="161.90" stroke="#2b2b2b" stroke-width="0.8"/>
<text x="472.80" y="172.70" font-size="8.3" text-anchor="middle" textLength="13.20" lengthAdjust="spacingAndGlyphs">250</text>
<text x="245.00" y="172.70" font-size="8.8" textLength="26.30" lengthAdjust="spacingAndGlyphs">PU, nM</text>
<rect x="280.30" y="118.25" width="4.20" height="41.25" fill="#c4122f"/>
<rect x="285.50" y="118.25" width="4.20" height="41.25" fill="#f39222"/>
<rect x="290.70" y="118.25" width="4.20" height="41.25" fill="#b8752a"/>
<rect x="303.45" y="128.97" width="4.20" height="30.53" fill="#c4122f"/>
<line x1="305.55" y1="125.67" x2="305.55" y2="132.28" stroke="#333" stroke-width="0.8"/>
<line x1="304.65" y1="125.67" x2="306.45" y2="125.67" stroke="#333" stroke-width="0.8"/>
<line x1="304.65" y1="132.28" x2="306.45" y2="132.28" stroke="#333" stroke-width="0.8"/>
<rect x="308.65" y="119.49" width="4.20" height="40.01" fill="#f39222"/>
<line x1="310.75" y1="117.01" x2="310.75" y2="121.96" stroke="#333" stroke-width="0.8"/>
<line x1="309.85" y1="117.01" x2="311.65" y2="117.01" stroke="#333" stroke-width="0.8"/>
<line x1="309.85" y1="121.96" x2="311.65" y2="121.96" stroke="#333" stroke-width="0.8"/>
<rect x="313.85" y="115.78" width="4.20" height="43.72" fill="#b8752a"/>
<line x1="315.95" y1="112.48" x2="315.95" y2="119.08" stroke="#333" stroke-width="0.8"/>
<line x1="315.05" y1="112.48" x2="316.85" y2="112.48" stroke="#333" stroke-width="0.8"/>
<line x1="315.05" y1="119.08" x2="316.85" y2="119.08" stroke="#333" stroke-width="0.8"/>
<rect x="326.60" y="154.14" width="4.20" height="5.36" fill="#c4122f"/>
<line x1="328.70" y1="153.31" x2="328.70" y2="154.96" stroke="#333" stroke-width="0.8"/>
<line x1="327.80" y1="153.31" x2="329.60" y2="153.31" stroke="#333" stroke-width="0.8"/>
<line x1="327.80" y1="154.96" x2="329.60" y2="154.96" stroke="#333" stroke-width="0.8"/>
<rect x="331.80" y="76.17" width="4.20" height="83.33" fill="#f39222"/>
<line x1="333.90" y1="64.62" x2="333.90" y2="87.72" stroke="#333" stroke-width="0.8"/>
<line x1="333.00" y1="64.62" x2="334.80" y2="64.62" stroke="#333" stroke-width="0.8"/>
<line x1="333.00" y1="87.72" x2="334.80" y2="87.72" stroke="#333" stroke-width="0.8"/>
<rect x="337.00" y="118.25" width="4.20" height="41.25" fill="#b8752a"/>
<line x1="339.10" y1="110.83" x2="339.10" y2="125.67" stroke="#333" stroke-width="0.8"/>
<line x1="338.20" y1="110.83" x2="340.00" y2="110.83" stroke="#333" stroke-width="0.8"/>
<line x1="338.20" y1="125.67" x2="340.00" y2="125.67" stroke="#333" stroke-width="0.8"/>
<rect x="349.75" y="118.25" width="4.20" height="41.25" fill="#c4122f"/>
<rect x="354.95" y="118.25" width="4.20" height="41.25" fill="#f39222"/>
<rect x="360.15" y="118.25" width="4.20" height="41.25" fill="#b8752a"/>
<rect x="372.90" y="123.61" width="4.20" height="35.89" fill="#c4122f"/>
<line x1="375.00" y1="121.96" x2="375.00" y2="125.26" stroke="#333" stroke-width="0.8"/>
<line x1="374.10" y1="121.96" x2="375.90" y2="121.96" stroke="#333" stroke-width="0.8"/>
<line x1="374.10" y1="125.26" x2="375.90" y2="125.26" stroke="#333" stroke-width="0.8"/>
<rect x="378.10" y="116.19" width="4.20" height="43.31" fill="#f39222"/>
<line x1="380.20" y1="114.12" x2="380.20" y2="118.25" stroke="#333" stroke-width="0.8"/>
<line x1="379.30" y1="114.12" x2="381.10" y2="114.12" stroke="#333" stroke-width="0.8"/>
<line x1="379.30" y1="118.25" x2="381.10" y2="118.25" stroke="#333" stroke-width="0.8"/>
<rect x="383.30" y="118.25" width="4.20" height="41.25" fill="#b8752a"/>
<line x1="385.40" y1="110.83" x2="385.40" y2="125.67" stroke="#333" stroke-width="0.8"/>
<line x1="384.50" y1="110.83" x2="386.30" y2="110.83" stroke="#333" stroke-width="0.8"/>
<line x1="384.50" y1="125.67" x2="386.30" y2="125.67" stroke="#333" stroke-width="0.8"/>
<rect x="396.05" y="150.43" width="4.20" height="9.07" fill="#c4122f"/>
<line x1="398.15" y1="149.19" x2="398.15" y2="151.66" stroke="#333" stroke-width="0.8"/>
<line x1="397.25" y1="149.19" x2="399.05" y2="149.19" stroke="#333" stroke-width="0.8"/>
<line x1="397.25" y1="151.66" x2="399.05" y2="151.66" stroke="#333" stroke-width="0.8"/>
<rect x="401.25" y="123.20" width="4.20" height="36.30" fill="#f39222"/>
<line x1="403.35" y1="121.55" x2="403.35" y2="124.85" stroke="#333" stroke-width="0.8"/>
<line x1="402.45" y1="121.55" x2="404.25" y2="121.55" stroke="#333" stroke-width="0.8"/>
<line x1="402.45" y1="124.85" x2="404.25" y2="124.85" stroke="#333" stroke-width="0.8"/>
<rect x="406.45" y="125.68" width="4.20" height="33.82" fill="#b8752a"/>
<line x1="408.55" y1="116.60" x2="408.55" y2="134.75" stroke="#333" stroke-width="0.8"/>
<line x1="407.65" y1="116.60" x2="409.45" y2="116.60" stroke="#333" stroke-width="0.8"/>
<line x1="407.65" y1="134.75" x2="409.45" y2="134.75" stroke="#333" stroke-width="0.8"/>
<rect x="419.20" y="118.25" width="4.20" height="41.25" fill="#c4122f"/>
<rect x="424.40" y="118.25" width="4.20" height="41.25" fill="#f39222"/>
<rect x="429.60" y="118.25" width="4.20" height="41.25" fill="#b8752a"/>
<rect x="442.35" y="122.38" width="4.20" height="37.12" fill="#c4122f"/>
<line x1="444.45" y1="121.55" x2="444.45" y2="123.20" stroke="#333" stroke-width="0.8"/>
<line x1="443.55" y1="121.55" x2="445.35" y2="121.55" stroke="#333" stroke-width="0.8"/>
<line x1="443.55" y1="123.20" x2="445.35" y2="123.20" stroke="#333" stroke-width="0.8"/>
<rect x="447.55" y="119.90" width="4.20" height="39.60" fill="#f39222"/>
<line x1="449.65" y1="117.84" x2="449.65" y2="121.96" stroke="#333" stroke-width="0.8"/>
<line x1="448.75" y1="117.84" x2="450.55" y2="117.84" stroke="#333" stroke-width="0.8"/>
<line x1="448.75" y1="121.96" x2="450.55" y2="121.96" stroke="#333" stroke-width="0.8"/>
<rect x="452.75" y="114.12" width="4.20" height="45.38" fill="#b8752a"/>
<line x1="454.85" y1="112.89" x2="454.85" y2="115.36" stroke="#333" stroke-width="0.8"/>
<line x1="453.95" y1="112.89" x2="455.75" y2="112.89" stroke="#333" stroke-width="0.8"/>
<line x1="453.95" y1="115.36" x2="455.75" y2="115.36" stroke="#333" stroke-width="0.8"/>
<rect x="465.50" y="140.11" width="4.20" height="19.39" fill="#c4122f"/>
<line x1="467.60" y1="137.64" x2="467.60" y2="142.59" stroke="#333" stroke-width="0.8"/>
<line x1="466.70" y1="137.64" x2="468.50" y2="137.64" stroke="#333" stroke-width="0.8"/>
<line x1="466.70" y1="142.59" x2="468.50" y2="142.59" stroke="#333" stroke-width="0.8"/>
<rect x="470.70" y="124.03" width="4.20" height="35.47" fill="#f39222"/>
<line x1="472.80" y1="120.73" x2="472.80" y2="127.33" stroke="#333" stroke-width="0.8"/>
<line x1="471.90" y1="120.73" x2="473.70" y2="120.73" stroke="#333" stroke-width="0.8"/>
<line x1="471.90" y1="127.33" x2="473.70" y2="127.33" stroke="#333" stroke-width="0.8"/>
<rect x="475.90" y="113.71" width="4.20" height="45.79" fill="#b8752a"/>
<line x1="478.00" y1="108.76" x2="478.00" y2="118.66" stroke="#333" stroke-width="0.8"/>
<line x1="477.10" y1="108.76" x2="478.90" y2="108.76" stroke="#333" stroke-width="0.8"/>
<line x1="477.10" y1="118.66" x2="478.90" y2="118.66" stroke="#333" stroke-width="0.8"/>
<text transform="translate(252.3,156.3) rotate(-90)" font-size="9.3" fill="#231f20" textLength="100.4" lengthAdjust="spacingAndGlyphs">Relative to respective control</text>
<text x="294.50" y="47.30" font-size="8.2" textLength="32.50" lengthAdjust="spacingAndGlyphs"><tspan font-style="italic">TP53</tspan><tspan font-style="italic">-WT</tspan></text>
<text x="356.30" y="47.30" font-size="8.2" textLength="46.20" lengthAdjust="spacingAndGlyphs"><tspan font-style="italic">TP53</tspan>-R175H</text>
<text x="423.00" y="47.30" font-size="8.2" textLength="44.50" lengthAdjust="spacingAndGlyphs"><tspan font-style="italic">TP53</tspan>-Y220C</text>
<line x1="283.80" y1="49.50" x2="338.00" y2="49.50" stroke="#5a5a5a" stroke-width="1"/>
<line x1="351.30" y1="49.50" x2="406.30" y2="49.50" stroke="#5a5a5a" stroke-width="1"/>
<line x1="417.70" y1="49.50" x2="472.30" y2="49.50" stroke="#5a5a5a" stroke-width="1"/>
<rect x="405.30" y="64.00" width="4.30" height="4.20" fill="#c4122f"/>
<text x="411.90" y="68.40" font-size="6.8" textLength="21.90" lengthAdjust="spacingAndGlyphs">MCL-1</text>
<rect x="405.30" y="73.90" width="4.30" height="4.20" fill="#f39222"/>
<text x="411.90" y="78.30" font-size="6.8" textLength="20.50" lengthAdjust="spacingAndGlyphs">BCL-2</text>
<rect x="405.30" y="83.80" width="4.30" height="4.20" fill="#b8752a"/>
<text x="411.90" y="88.20" font-size="6.8" textLength="23.00" lengthAdjust="spacingAndGlyphs">BCL-xL</text>
<line x1="275.50" y1="202.00" x2="275.50" y2="315.70" stroke="#2b2b2b" stroke-width="1"/>
<line x1="272.50" y1="315.30" x2="512.00" y2="315.30" stroke="#2b2b2b" stroke-width="1"/>
<line x1="272.80" y1="315.30" x2="275.50" y2="315.30" stroke="#2b2b2b" stroke-width="0.8"/>
<text x="269.00" y="318.00" font-size="8.2" text-anchor="end" textLength="4.40" lengthAdjust="spacingAndGlyphs">0</text>
<line x1="272.80" y1="293.10" x2="275.50" y2="293.10" stroke="#2b2b2b" stroke-width="0.8"/>
<text x="269.00" y="295.80" font-size="8.2" text-anchor="end" textLength="4.40" lengthAdjust="spacingAndGlyphs">1</text>
<line x1="272.80" y1="270.90" x2="275.50" y2="270.90" stroke="#2b2b2b" stroke-width="0.8"/>
<text x="269.00" y="273.60" font-size="8.2" text-anchor="end" textLength="4.40" lengthAdjust="spacingAndGlyphs">2</text>
<line x1="272.80" y1="248.70" x2="275.50" y2="248.70" stroke="#2b2b2b" stroke-width="0.8"/>
<text x="269.00" y="251.40" font-size="8.2" text-anchor="end" textLength="4.40" lengthAdjust="spacingAndGlyphs">3</text>
<line x1="272.80" y1="226.50" x2="275.50" y2="226.50" stroke="#2b2b2b" stroke-width="0.8"/>
<text x="269.00" y="229.20" font-size="8.2" text-anchor="end" textLength="4.40" lengthAdjust="spacingAndGlyphs">4</text>
<line x1="272.80" y1="204.30" x2="275.50" y2="204.30" stroke="#2b2b2b" stroke-width="0.8"/>
<text x="269.00" y="207.00" font-size="8.2" text-anchor="end" textLength="4.40" lengthAdjust="spacingAndGlyphs">5</text>
<line x1="288.80" y1="315.30" x2="288.80" y2="318.30" stroke="#2b2b2b" stroke-width="0.8"/>
<text x="288.80" y="328.20" font-size="8.3" text-anchor="middle" textLength="4.80" lengthAdjust="spacingAndGlyphs">0</text>
<line x1="315.10" y1="315.30" x2="315.10" y2="318.30" stroke="#2b2b2b" stroke-width="0.8"/>
<text x="315.10" y="328.20" font-size="8.3" text-anchor="middle" textLength="12.60" lengthAdjust="spacingAndGlyphs">100</text>
<line x1="341.40" y1="315.30" x2="341.40" y2="318.30" stroke="#2b2b2b" stroke-width="0.8"/>
<text x="341.40" y="328.20" font-size="8.3" text-anchor="middle" textLength="13.20" lengthAdjust="spacingAndGlyphs">250</text>
<line x1="367.70" y1="315.30" x2="367.70" y2="318.30" stroke="#2b2b2b" stroke-width="0.8"/>
<text x="367.70" y="328.20" font-size="8.3" text-anchor="middle" textLength="4.80" lengthAdjust="spacingAndGlyphs">0</text>
<line x1="394.00" y1="315.30" x2="394.00" y2="318.30" stroke="#2b2b2b" stroke-width="0.8"/>
<text x="394.00" y="328.20" font-size="8.3" text-anchor="middle" textLength="12.60" lengthAdjust="spacingAndGlyphs">100</text>
<line x1="420.30" y1="315.30" x2="420.30" y2="318.30" stroke="#2b2b2b" stroke-width="0.8"/>
<text x="420.30" y="328.20" font-size="8.3" text-anchor="middle" textLength="13.20" lengthAdjust="spacingAndGlyphs">250</text>
<line x1="446.60" y1="315.30" x2="446.60" y2="318.30" stroke="#2b2b2b" stroke-width="0.8"/>
<text x="446.60" y="328.20" font-size="8.3" text-anchor="middle" textLength="4.80" lengthAdjust="spacingAndGlyphs">0</text>
<line x1="472.90" y1="315.30" x2="472.90" y2="318.30" stroke="#2b2b2b" stroke-width="0.8"/>
<text x="472.90" y="328.20" font-size="8.3" text-anchor="middle" textLength="12.60" lengthAdjust="spacingAndGlyphs">100</text>
<line x1="499.20" y1="315.30" x2="499.20" y2="318.30" stroke="#2b2b2b" stroke-width="0.8"/>
<text x="499.20" y="328.20" font-size="8.3" text-anchor="middle" textLength="13.20" lengthAdjust="spacingAndGlyphs">250</text>
<text x="245.00" y="328.30" font-size="8.8" textLength="27.00" lengthAdjust="spacingAndGlyphs">PU, nM</text>
<rect x="278.10" y="293.10" width="2.30" height="22.20" fill="#3fb34a"/>
<line x1="278.10" y1="293.10" x2="280.40" y2="293.10" stroke="#222" stroke-width="0.6" stroke-opacity="0.6"/>
<rect x="280.82" y="293.10" width="2.30" height="22.20" fill="#1d5e48"/>
<line x1="280.82" y1="293.10" x2="283.12" y2="293.10" stroke="#222" stroke-width="0.6" stroke-opacity="0.6"/>
<rect x="283.54" y="293.10" width="2.30" height="22.20" fill="#b5c99a"/>
<line x1="283.54" y1="293.10" x2="285.84" y2="293.10" stroke="#222" stroke-width="0.6" stroke-opacity="0.6"/>
<rect x="286.26" y="293.10" width="2.30" height="22.20" fill="#1f4e8c"/>
<line x1="286.26" y1="293.10" x2="288.56" y2="293.10" stroke="#222" stroke-width="0.6" stroke-opacity="0.6"/>
<rect x="288.98" y="293.10" width="2.30" height="22.20" fill="#5b2d7a"/>
<line x1="288.98" y1="293.10" x2="291.28" y2="293.10" stroke="#222" stroke-width="0.6" stroke-opacity="0.6"/>
<rect x="291.70" y="293.10" width="2.30" height="22.20" fill="#6b3d14"/>
<line x1="291.70" y1="293.10" x2="294.00" y2="293.10" stroke="#222" stroke-width="0.6" stroke-opacity="0.6"/>
<rect x="294.42" y="293.10" width="2.30" height="22.20" fill="#5cb8e6"/>
<line x1="294.42" y1="293.10" x2="296.72" y2="293.10" stroke="#222" stroke-width="0.6" stroke-opacity="0.6"/>
<rect x="297.14" y="293.10" width="2.30" height="22.20" fill="#e0208a"/>
<line x1="297.14" y1="293.10" x2="299.44" y2="293.10" stroke="#222" stroke-width="0.6" stroke-opacity="0.6"/>
<rect x="304.40" y="304.20" width="2.30" height="11.10" fill="#3fb34a"/>
<line x1="304.40" y1="304.20" x2="306.70" y2="304.20" stroke="#222" stroke-width="0.6" stroke-opacity="0.6"/>
<line x1="305.55" y1="301.98" x2="305.55" y2="304.20" stroke="#444" stroke-width="0.8"/>
<line x1="304.75" y1="301.98" x2="306.35" y2="301.98" stroke="#444" stroke-width="0.8"/>
<rect x="307.12" y="287.33" width="2.30" height="27.97" fill="#1d5e48"/>
<line x1="307.12" y1="287.33" x2="309.42" y2="287.33" stroke="#222" stroke-width="0.6" stroke-opacity="0.6"/>
<line x1="308.27" y1="280.67" x2="308.27" y2="287.33" stroke="#444" stroke-width="0.8"/>
<line x1="307.47" y1="280.67" x2="309.07" y2="280.67" stroke="#444" stroke-width="0.8"/>
<rect x="309.84" y="287.11" width="2.30" height="28.19" fill="#b5c99a"/>
<line x1="309.84" y1="287.11" x2="312.14" y2="287.11" stroke="#222" stroke-width="0.6" stroke-opacity="0.6"/>
<line x1="310.99" y1="279.56" x2="310.99" y2="294.65" stroke="#444" stroke-width="0.8"/>
<line x1="310.19" y1="279.56" x2="311.79" y2="279.56" stroke="#444" stroke-width="0.8"/>
<line x1="310.19" y1="294.65" x2="311.79" y2="294.65" stroke="#444" stroke-width="0.8"/>
<rect x="312.56" y="294.21" width="2.30" height="21.09" fill="#1f4e8c"/>
<line x1="312.56" y1="294.21" x2="314.86" y2="294.21" stroke="#222" stroke-width="0.6" stroke-opacity="0.6"/>
<line x1="313.71" y1="293.10" x2="313.71" y2="294.21" stroke="#444" stroke-width="0.8"/>
<line x1="312.91" y1="293.10" x2="314.51" y2="293.10" stroke="#444" stroke-width="0.8"/>
<rect x="315.28" y="295.32" width="2.30" height="19.98" fill="#5b2d7a"/>
<line x1="315.28" y1="295.32" x2="317.58" y2="295.32" stroke="#222" stroke-width="0.6" stroke-opacity="0.6"/>
<line x1="316.43" y1="294.21" x2="316.43" y2="295.32" stroke="#444" stroke-width="0.8"/>
<line x1="315.63" y1="294.21" x2="317.23" y2="294.21" stroke="#444" stroke-width="0.8"/>
<rect x="318.00" y="293.54" width="2.30" height="21.76" fill="#6b3d14"/>
<line x1="318.00" y1="293.54" x2="320.30" y2="293.54" stroke="#222" stroke-width="0.6" stroke-opacity="0.6"/>
<line x1="319.15" y1="292.88" x2="319.15" y2="293.54" stroke="#444" stroke-width="0.8"/>
<line x1="318.35" y1="292.88" x2="319.95" y2="292.88" stroke="#444" stroke-width="0.8"/>
<rect x="320.72" y="293.10" width="2.30" height="22.20" fill="#5cb8e6"/>
<line x1="320.72" y1="293.10" x2="323.02" y2="293.10" stroke="#222" stroke-width="0.6" stroke-opacity="0.6"/>
<line x1="321.87" y1="291.99" x2="321.87" y2="293.10" stroke="#444" stroke-width="0.8"/>
<line x1="321.07" y1="291.99" x2="322.67" y2="291.99" stroke="#444" stroke-width="0.8"/>
<rect x="323.44" y="293.77" width="2.30" height="21.53" fill="#e0208a"/>
<line x1="323.44" y1="293.77" x2="325.74" y2="293.77" stroke="#222" stroke-width="0.6" stroke-opacity="0.6"/>
<line x1="324.59" y1="292.66" x2="324.59" y2="293.77" stroke="#444" stroke-width="0.8"/>
<line x1="323.79" y1="292.66" x2="325.39" y2="292.66" stroke="#444" stroke-width="0.8"/>
<rect x="330.70" y="222.06" width="2.30" height="93.24" fill="#3fb34a"/>
<line x1="330.70" y1="222.06" x2="333.00" y2="222.06" stroke="#222" stroke-width="0.6" stroke-opacity="0.6"/>
<line x1="331.85" y1="213.62" x2="331.85" y2="222.06" stroke="#444" stroke-width="0.8"/>
<line x1="331.05" y1="213.62" x2="332.65" y2="213.62" stroke="#444" stroke-width="0.8"/>
<rect x="333.42" y="287.11" width="2.30" height="28.19" fill="#1d5e48"/>
<line x1="333.42" y1="287.11" x2="335.72" y2="287.11" stroke="#222" stroke-width="0.6" stroke-opacity="0.6"/>
<line x1="334.57" y1="283.55" x2="334.57" y2="287.11" stroke="#444" stroke-width="0.8"/>
<line x1="333.77" y1="283.55" x2="335.37" y2="283.55" stroke="#444" stroke-width="0.8"/>
<rect x="336.14" y="283.11" width="2.30" height="32.19" fill="#b5c99a"/>
<line x1="336.14" y1="283.11" x2="338.44" y2="283.11" stroke="#222" stroke-width="0.6" stroke-opacity="0.6"/>
<line x1="337.29" y1="271.34" x2="337.29" y2="294.88" stroke="#444" stroke-width="0.8"/>
<line x1="336.49" y1="271.34" x2="338.09" y2="271.34" stroke="#444" stroke-width="0.8"/>
<line x1="336.49" y1="294.88" x2="338.09" y2="294.88" stroke="#444" stroke-width="0.8"/>
<rect x="338.86" y="303.76" width="2.30" height="11.54" fill="#1f4e8c"/>
<line x1="338.86" y1="303.76" x2="341.16" y2="303.76" stroke="#222" stroke-width="0.6" stroke-opacity="0.6"/>
<line x1="340.01" y1="301.54" x2="340.01" y2="303.76" stroke="#444" stroke-width="0.8"/>
<line x1="339.21" y1="301.54" x2="340.81" y2="301.54" stroke="#444" stroke-width="0.8"/>
<rect x="341.58" y="311.53" width="2.30" height="3.77" fill="#5b2d7a"/>
<line x1="341.58" y1="311.53" x2="343.88" y2="311.53" stroke="#222" stroke-width="0.6" stroke-opacity="0.6"/>
<line x1="342.73" y1="310.42" x2="342.73" y2="311.53" stroke="#444" stroke-width="0.8"/>
<line x1="341.93" y1="310.42" x2="343.53" y2="310.42" stroke="#444" stroke-width="0.8"/>
<rect x="344.30" y="309.97" width="2.30" height="5.33" fill="#6b3d14"/>
<line x1="344.30" y1="309.97" x2="346.60" y2="309.97" stroke="#222" stroke-width="0.6" stroke-opacity="0.6"/>
<line x1="345.45" y1="307.31" x2="345.45" y2="309.97" stroke="#444" stroke-width="0.8"/>
<line x1="344.65" y1="307.31" x2="346.25" y2="307.31" stroke="#444" stroke-width="0.8"/>
<rect x="347.02" y="300.65" width="2.30" height="14.65" fill="#5cb8e6"/>
<line x1="347.02" y1="300.65" x2="349.32" y2="300.65" stroke="#222" stroke-width="0.6" stroke-opacity="0.6"/>
<line x1="348.17" y1="297.98" x2="348.17" y2="300.65" stroke="#444" stroke-width="0.8"/>
<line x1="347.37" y1="297.98" x2="348.97" y2="297.98" stroke="#444" stroke-width="0.8"/>
<rect x="349.74" y="248.70" width="2.30" height="66.60" fill="#e0208a"/>
<line x1="349.74" y1="248.70" x2="352.04" y2="248.70" stroke="#222" stroke-width="0.6" stroke-opacity="0.6"/>
<line x1="350.89" y1="244.48" x2="350.89" y2="248.70" stroke="#444" stroke-width="0.8"/>
<line x1="350.09" y1="244.48" x2="351.69" y2="244.48" stroke="#444" stroke-width="0.8"/>
<rect x="357.00" y="293.10" width="2.30" height="22.20" fill="#3fb34a"/>
<line x1="357.00" y1="293.10" x2="359.30" y2="293.10" stroke="#222" stroke-width="0.6" stroke-opacity="0.6"/>
<rect x="359.72" y="293.10" width="2.30" height="22.20" fill="#1d5e48"/>
<line x1="359.72" y1="293.10" x2="362.02" y2="293.10" stroke="#222" stroke-width="0.6" stroke-opacity="0.6"/>
<rect x="362.44" y="293.10" width="2.30" height="22.20" fill="#b5c99a"/>
<line x1="362.44" y1="293.10" x2="364.74" y2="293.10" stroke="#222" stroke-width="0.6" stroke-opacity="0.6"/>
<rect x="365.16" y="293.10" width="2.30" height="22.20" fill="#1f4e8c"/>
<line x1="365.16" y1="293.10" x2="367.46" y2="293.10" stroke="#222" stroke-width="0.6" stroke-opacity="0.6"/>
<rect x="367.88" y="293.10" width="2.30" height="22.20" fill="#5b2d7a"/>
<line x1="367.88" y1="293.10" x2="370.18" y2="293.10" stroke="#222" stroke-width="0.6" stroke-opacity="0.6"/>
<rect x="370.60" y="293.10" width="2.30" height="22.20" fill="#6b3d14"/>
<line x1="370.60" y1="293.10" x2="372.90" y2="293.10" stroke="#222" stroke-width="0.6" stroke-opacity="0.6"/>
<rect x="373.32" y="293.10" width="2.30" height="22.20" fill="#5cb8e6"/>
<line x1="373.32" y1="293.10" x2="375.62" y2="293.10" stroke="#222" stroke-width="0.6" stroke-opacity="0.6"/>
<rect x="376.04" y="293.10" width="2.30" height="22.20" fill="#e0208a"/>
<line x1="376.04" y1="293.10" x2="378.34" y2="293.10" stroke="#222" stroke-width="0.6" stroke-opacity="0.6"/>
<rect x="383.30" y="284.89" width="2.30" height="30.41" fill="#3fb34a"/>
<line x1="383.30" y1="284.89" x2="385.60" y2="284.89" stroke="#222" stroke-width="0.6" stroke-opacity="0.6"/>
<line x1="384.45" y1="281.33" x2="384.45" y2="284.89" stroke="#444" stroke-width="0.8"/>
<line x1="383.65" y1="281.33" x2="385.25" y2="281.33" stroke="#444" stroke-width="0.8"/>
<rect x="386.02" y="264.91" width="2.30" height="50.39" fill="#1d5e48"/>
<line x1="386.02" y1="264.91" x2="388.32" y2="264.91" stroke="#222" stroke-width="0.6" stroke-opacity="0.6"/>
<line x1="387.17" y1="256.25" x2="387.17" y2="264.91" stroke="#444" stroke-width="0.8"/>
<line x1="386.37" y1="256.25" x2="387.97" y2="256.25" stroke="#444" stroke-width="0.8"/>
<rect x="388.74" y="276.45" width="2.30" height="38.85" fill="#b5c99a"/>
<line x1="388.74" y1="276.45" x2="391.04" y2="276.45" stroke="#222" stroke-width="0.6" stroke-opacity="0.6"/>
<line x1="389.89" y1="265.35" x2="389.89" y2="287.55" stroke="#444" stroke-width="0.8"/>
<line x1="389.09" y1="265.35" x2="390.69" y2="265.35" stroke="#444" stroke-width="0.8"/>
<line x1="389.09" y1="287.55" x2="390.69" y2="287.55" stroke="#444" stroke-width="0.8"/>
<rect x="391.46" y="290.88" width="2.30" height="24.42" fill="#1f4e8c"/>
<line x1="391.46" y1="290.88" x2="393.76" y2="290.88" stroke="#222" stroke-width="0.6" stroke-opacity="0.6"/>
<line x1="392.61" y1="289.55" x2="392.61" y2="290.88" stroke="#444" stroke-width="0.8"/>
<line x1="391.81" y1="289.55" x2="393.41" y2="289.55" stroke="#444" stroke-width="0.8"/>
<rect x="394.18" y="284.00" width="2.30" height="31.30" fill="#5b2d7a"/>
<line x1="394.18" y1="284.00" x2="396.48" y2="284.00" stroke="#222" stroke-width="0.6" stroke-opacity="0.6"/>
<line x1="395.33" y1="275.34" x2="395.33" y2="284.00" stroke="#444" stroke-width="0.8"/>
<line x1="394.53" y1="275.34" x2="396.13" y2="275.34" stroke="#444" stroke-width="0.8"/>
<rect x="396.90" y="294.21" width="2.30" height="21.09" fill="#6b3d14"/>
<line x1="396.90" y1="294.21" x2="399.20" y2="294.21" stroke="#222" stroke-width="0.6" stroke-opacity="0.6"/>
<line x1="398.05" y1="292.43" x2="398.05" y2="294.21" stroke="#444" stroke-width="0.8"/>
<line x1="397.25" y1="292.43" x2="398.85" y2="292.43" stroke="#444" stroke-width="0.8"/>
<rect x="399.62" y="294.21" width="2.30" height="21.09" fill="#5cb8e6"/>
<line x1="399.62" y1="294.21" x2="401.92" y2="294.21" stroke="#222" stroke-width="0.6" stroke-opacity="0.6"/>
<line x1="400.77" y1="293.10" x2="400.77" y2="294.21" stroke="#444" stroke-width="0.8"/>
<line x1="399.97" y1="293.10" x2="401.57" y2="293.10" stroke="#444" stroke-width="0.8"/>
<rect x="402.34" y="287.33" width="2.30" height="27.97" fill="#e0208a"/>
<line x1="402.34" y1="287.33" x2="404.64" y2="287.33" stroke="#222" stroke-width="0.6" stroke-opacity="0.6"/>
<line x1="403.49" y1="281.33" x2="403.49" y2="287.33" stroke="#444" stroke-width="0.8"/>
<line x1="402.69" y1="281.33" x2="404.29" y2="281.33" stroke="#444" stroke-width="0.8"/>
<rect x="409.60" y="266.46" width="2.30" height="48.84" fill="#3fb34a"/>
<line x1="409.60" y1="266.46" x2="411.90" y2="266.46" stroke="#222" stroke-width="0.6" stroke-opacity="0.6"/>
<line x1="410.75" y1="258.47" x2="410.75" y2="266.46" stroke="#444" stroke-width="0.8"/>
<line x1="409.95" y1="258.47" x2="411.55" y2="258.47" stroke="#444" stroke-width="0.8"/>
<rect x="412.32" y="270.90" width="2.30" height="44.40" fill="#1d5e48"/>
<line x1="412.32" y1="270.90" x2="414.62" y2="270.90" stroke="#222" stroke-width="0.6" stroke-opacity="0.6"/>
<line x1="413.47" y1="265.35" x2="413.47" y2="270.90" stroke="#444" stroke-width="0.8"/>
<line x1="412.67" y1="265.35" x2="414.27" y2="265.35" stroke="#444" stroke-width="0.8"/>
<rect x="415.04" y="276.01" width="2.30" height="39.29" fill="#b5c99a"/>
<line x1="415.04" y1="276.01" x2="417.34" y2="276.01" stroke="#222" stroke-width="0.6" stroke-opacity="0.6"/>
<line x1="416.19" y1="263.13" x2="416.19" y2="288.88" stroke="#444" stroke-width="0.8"/>
<line x1="415.39" y1="263.13" x2="416.99" y2="263.13" stroke="#444" stroke-width="0.8"/>
<line x1="415.39" y1="288.88" x2="416.99" y2="288.88" stroke="#444" stroke-width="0.8"/>
<rect x="417.76" y="304.64" width="2.30" height="10.66" fill="#1f4e8c"/>
<line x1="417.76" y1="304.64" x2="420.06" y2="304.64" stroke="#222" stroke-width="0.6" stroke-opacity="0.6"/>
<line x1="418.91" y1="303.53" x2="418.91" y2="304.64" stroke="#444" stroke-width="0.8"/>
<line x1="418.11" y1="303.53" x2="419.71" y2="303.53" stroke="#444" stroke-width="0.8"/>
<rect x="420.48" y="309.97" width="2.30" height="5.33" fill="#5b2d7a"/>
<line x1="420.48" y1="309.97" x2="422.78" y2="309.97" stroke="#222" stroke-width="0.6" stroke-opacity="0.6"/>
<line x1="421.63" y1="308.86" x2="421.63" y2="309.97" stroke="#444" stroke-width="0.8"/>
<line x1="420.83" y1="308.86" x2="422.43" y2="308.86" stroke="#444" stroke-width="0.8"/>
<rect x="423.20" y="307.53" width="2.30" height="7.77" fill="#6b3d14"/>
<line x1="423.20" y1="307.53" x2="425.50" y2="307.53" stroke="#222" stroke-width="0.6" stroke-opacity="0.6"/>
<line x1="424.35" y1="305.75" x2="424.35" y2="307.53" stroke="#444" stroke-width="0.8"/>
<line x1="423.55" y1="305.75" x2="425.15" y2="305.75" stroke="#444" stroke-width="0.8"/>
<rect x="425.92" y="299.54" width="2.30" height="15.76" fill="#5cb8e6"/>
<line x1="425.92" y1="299.54" x2="428.22" y2="299.54" stroke="#222" stroke-width="0.6" stroke-opacity="0.6"/>
<line x1="427.07" y1="298.43" x2="427.07" y2="299.54" stroke="#444" stroke-width="0.8"/>
<line x1="426.27" y1="298.43" x2="427.87" y2="298.43" stroke="#444" stroke-width="0.8"/>
<rect x="428.64" y="283.33" width="2.30" height="31.97" fill="#e0208a"/>
<line x1="428.64" y1="283.33" x2="430.94" y2="283.33" stroke="#222" stroke-width="0.6" stroke-opacity="0.6"/>
<line x1="429.79" y1="271.34" x2="429.79" y2="283.33" stroke="#444" stroke-width="0.8"/>
<line x1="428.99" y1="271.34" x2="430.59" y2="271.34" stroke="#444" stroke-width="0.8"/>
<rect x="435.90" y="293.10" width="2.30" height="22.20" fill="#3fb34a"/>
<line x1="435.90" y1="293.10" x2="438.20" y2="293.10" stroke="#222" stroke-width="0.6" stroke-opacity="0.6"/>
<rect x="438.62" y="293.10" width="2.30" height="22.20" fill="#1d5e48"/>
<line x1="438.62" y1="293.10" x2="440.92" y2="293.10" stroke="#222" stroke-width="0.6" stroke-opacity="0.6"/>
<rect x="441.34" y="293.10" width="2.30" height="22.20" fill="#b5c99a"/>
<line x1="441.34" y1="293.10" x2="443.64" y2="293.10" stroke="#222" stroke-width="0.6" stroke-opacity="0.6"/>
<rect x="444.06" y="293.10" width="2.30" height="22.20" fill="#1f4e8c"/>
<line x1="444.06" y1="293.10" x2="446.36" y2="293.10" stroke="#222" stroke-width="0.6" stroke-opacity="0.6"/>
<rect x="446.78" y="293.10" width="2.30" height="22.20" fill="#5b2d7a"/>
<line x1="446.78" y1="293.10" x2="449.08" y2="293.10" stroke="#222" stroke-width="0.6" stroke-opacity="0.6"/>
<rect x="449.50" y="293.10" width="2.30" height="22.20" fill="#6b3d14"/>
<line x1="449.50" y1="293.10" x2="451.80" y2="293.10" stroke="#222" stroke-width="0.6" stroke-opacity="0.6"/>
<rect x="452.22" y="293.10" width="2.30" height="22.20" fill="#5cb8e6"/>
<line x1="452.22" y1="293.10" x2="454.52" y2="293.10" stroke="#222" stroke-width="0.6" stroke-opacity="0.6"/>
<rect x="454.94" y="293.10" width="2.30" height="22.20" fill="#e0208a"/>
<line x1="454.94" y1="293.10" x2="457.24" y2="293.10" stroke="#222" stroke-width="0.6" stroke-opacity="0.6"/>
<rect x="462.20" y="300.65" width="2.30" height="14.65" fill="#3fb34a"/>
<line x1="462.20" y1="300.65" x2="464.50" y2="300.65" stroke="#222" stroke-width="0.6" stroke-opacity="0.6"/>
<line x1="463.35" y1="297.54" x2="463.35" y2="300.65" stroke="#444" stroke-width="0.8"/>
<line x1="462.55" y1="297.54" x2="464.15" y2="297.54" stroke="#444" stroke-width="0.8"/>
<rect x="464.92" y="269.57" width="2.30" height="45.73" fill="#1d5e48"/>
<line x1="464.92" y1="269.57" x2="467.22" y2="269.57" stroke="#222" stroke-width="0.6" stroke-opacity="0.6"/>
<line x1="466.07" y1="261.13" x2="466.07" y2="269.57" stroke="#444" stroke-width="0.8"/>
<line x1="465.27" y1="261.13" x2="466.87" y2="261.13" stroke="#444" stroke-width="0.8"/>
<rect x="467.64" y="274.45" width="2.30" height="40.85" fill="#b5c99a"/>
<line x1="467.64" y1="274.45" x2="469.94" y2="274.45" stroke="#222" stroke-width="0.6" stroke-opacity="0.6"/>
<line x1="468.79" y1="262.91" x2="468.79" y2="286.00" stroke="#444" stroke-width="0.8"/>
<line x1="467.99" y1="262.91" x2="469.59" y2="262.91" stroke="#444" stroke-width="0.8"/>
<line x1="467.99" y1="286.00" x2="469.59" y2="286.00" stroke="#444" stroke-width="0.8"/>
<rect x="470.36" y="291.32" width="2.30" height="23.98" fill="#1f4e8c"/>
<line x1="470.36" y1="291.32" x2="472.66" y2="291.32" stroke="#222" stroke-width="0.6" stroke-opacity="0.6"/>
<line x1="471.51" y1="290.21" x2="471.51" y2="291.32" stroke="#444" stroke-width="0.8"/>
<line x1="470.71" y1="290.21" x2="472.31" y2="290.21" stroke="#444" stroke-width="0.8"/>
<rect x="473.08" y="289.77" width="2.30" height="25.53" fill="#5b2d7a"/>
<line x1="473.08" y1="289.77" x2="475.38" y2="289.77" stroke="#222" stroke-width="0.6" stroke-opacity="0.6"/>
<line x1="474.23" y1="286.44" x2="474.23" y2="289.77" stroke="#444" stroke-width="0.8"/>
<line x1="473.43" y1="286.44" x2="475.03" y2="286.44" stroke="#444" stroke-width="0.8"/>
<rect x="475.80" y="297.10" width="2.30" height="18.20" fill="#6b3d14"/>
<line x1="475.80" y1="297.10" x2="478.10" y2="297.10" stroke="#222" stroke-width="0.6" stroke-opacity="0.6"/>
<line x1="476.95" y1="295.99" x2="476.95" y2="297.10" stroke="#444" stroke-width="0.8"/>
<line x1="476.15" y1="295.99" x2="477.75" y2="295.99" stroke="#444" stroke-width="0.8"/>
<rect x="478.52" y="295.32" width="2.30" height="19.98" fill="#5cb8e6"/>
<line x1="478.52" y1="295.32" x2="480.82" y2="295.32" stroke="#222" stroke-width="0.6" stroke-opacity="0.6"/>
<line x1="479.67" y1="294.21" x2="479.67" y2="295.32" stroke="#444" stroke-width="0.8"/>
<line x1="478.87" y1="294.21" x2="480.47" y2="294.21" stroke="#444" stroke-width="0.8"/>
<rect x="481.24" y="289.77" width="2.30" height="25.53" fill="#e0208a"/>
<line x1="481.24" y1="289.77" x2="483.54" y2="289.77" stroke="#222" stroke-width="0.6" stroke-opacity="0.6"/>
<line x1="482.39" y1="284.44" x2="482.39" y2="289.77" stroke="#444" stroke-width="0.8"/>
<line x1="481.59" y1="284.44" x2="483.19" y2="284.44" stroke="#444" stroke-width="0.8"/>
<rect x="488.50" y="263.13" width="2.30" height="52.17" fill="#3fb34a"/>
<line x1="488.50" y1="263.13" x2="490.80" y2="263.13" stroke="#222" stroke-width="0.6" stroke-opacity="0.6"/>
<line x1="489.65" y1="259.58" x2="489.65" y2="263.13" stroke="#444" stroke-width="0.8"/>
<line x1="488.85" y1="259.58" x2="490.45" y2="259.58" stroke="#444" stroke-width="0.8"/>
<rect x="491.22" y="252.70" width="2.30" height="62.60" fill="#1d5e48"/>
<line x1="491.22" y1="252.70" x2="493.52" y2="252.70" stroke="#222" stroke-width="0.6" stroke-opacity="0.6"/>
<line x1="492.37" y1="249.81" x2="492.37" y2="252.70" stroke="#444" stroke-width="0.8"/>
<line x1="491.57" y1="249.81" x2="493.17" y2="249.81" stroke="#444" stroke-width="0.8"/>
<rect x="493.94" y="271.34" width="2.30" height="43.96" fill="#b5c99a"/>
<line x1="493.94" y1="271.34" x2="496.24" y2="271.34" stroke="#222" stroke-width="0.6" stroke-opacity="0.6"/>
<line x1="495.09" y1="251.36" x2="495.09" y2="291.32" stroke="#444" stroke-width="0.8"/>
<line x1="494.29" y1="251.36" x2="495.89" y2="251.36" stroke="#444" stroke-width="0.8"/>
<line x1="494.29" y1="291.32" x2="495.89" y2="291.32" stroke="#444" stroke-width="0.8"/>
<rect x="496.66" y="300.20" width="2.30" height="15.10" fill="#1f4e8c"/>
<line x1="496.66" y1="300.20" x2="498.96" y2="300.20" stroke="#222" stroke-width="0.6" stroke-opacity="0.6"/>
<line x1="497.81" y1="299.09" x2="497.81" y2="300.20" stroke="#444" stroke-width="0.8"/>
<line x1="497.01" y1="299.09" x2="498.61" y2="299.09" stroke="#444" stroke-width="0.8"/>
<rect x="499.38" y="301.31" width="2.30" height="13.99" fill="#5b2d7a"/>
<line x1="499.38" y1="301.31" x2="501.68" y2="301.31" stroke="#222" stroke-width="0.6" stroke-opacity="0.6"/>
<line x1="500.53" y1="300.20" x2="500.53" y2="301.31" stroke="#444" stroke-width="0.8"/>
<line x1="499.73" y1="300.20" x2="501.33" y2="300.20" stroke="#444" stroke-width="0.8"/>
<rect x="502.10" y="305.31" width="2.30" height="9.99" fill="#6b3d14"/>
<line x1="502.10" y1="305.31" x2="504.40" y2="305.31" stroke="#222" stroke-width="0.6" stroke-opacity="0.6"/>
<line x1="503.25" y1="300.20" x2="503.25" y2="305.31" stroke="#444" stroke-width="0.8"/>
<line x1="502.45" y1="300.20" x2="504.05" y2="300.20" stroke="#444" stroke-width="0.8"/>
<rect x="504.82" y="294.88" width="2.30" height="20.42" fill="#5cb8e6"/>
<line x1="504.82" y1="294.88" x2="507.12" y2="294.88" stroke="#222" stroke-width="0.6" stroke-opacity="0.6"/>
<line x1="505.97" y1="293.77" x2="505.97" y2="294.88" stroke="#444" stroke-width="0.8"/>
<line x1="505.17" y1="293.77" x2="506.77" y2="293.77" stroke="#444" stroke-width="0.8"/>
<rect x="507.54" y="292.21" width="2.30" height="23.09" fill="#e0208a"/>
<line x1="507.54" y1="292.21" x2="509.84" y2="292.21" stroke="#222" stroke-width="0.6" stroke-opacity="0.6"/>
<line x1="508.69" y1="284.00" x2="508.69" y2="292.21" stroke="#444" stroke-width="0.8"/>
<line x1="507.89" y1="284.00" x2="509.49" y2="284.00" stroke="#444" stroke-width="0.8"/>
<text transform="translate(258.8,307.4) rotate(-90)" font-size="9.3" fill="#231f20" textLength="100.4" lengthAdjust="spacingAndGlyphs">Relative to respective control</text>
<text x="297.50" y="197.70" font-size="8.2" textLength="33.80" lengthAdjust="spacingAndGlyphs"><tspan font-style="italic">TP53</tspan><tspan font-style="italic">-WT</tspan></text>
<text x="374.50" y="197.70" font-size="8.2" textLength="46.80" lengthAdjust="spacingAndGlyphs"><tspan font-style="italic">TP53</tspan>-R175H</text>
<text x="457.50" y="197.70" font-size="8.2" textLength="47.10" lengthAdjust="spacingAndGlyphs"><tspan font-style="italic">TP53</tspan>-Y220C</text>
<line x1="290.00" y1="199.60" x2="339.50" y2="199.60" stroke="#5a5a5a" stroke-width="1"/>
<line x1="367.00" y1="199.60" x2="428.00" y2="199.60" stroke="#5a5a5a" stroke-width="1"/>
<line x1="453.70" y1="199.60" x2="506.90" y2="199.60" stroke="#5a5a5a" stroke-width="1"/>
<rect x="352.80" y="206.80" width="4.20" height="4.20" fill="#3fb34a"/>
<text x="361.30" y="211.30" font-size="7.0" textLength="25.00" lengthAdjust="spacingAndGlyphs">BIM-EL</text>
<rect x="404.30" y="206.80" width="4.20" height="4.20" fill="#1d5e48"/>
<text x="412.50" y="211.30" font-size="7.0" textLength="20.00" lengthAdjust="spacingAndGlyphs">BIM-L</text>
<rect x="455.40" y="206.80" width="4.20" height="4.20" fill="#b5c99a"/>
<text x="463.30" y="211.30" font-size="7.0" textLength="20.20" lengthAdjust="spacingAndGlyphs">BIM-S</text>
<rect x="352.80" y="218.50" width="4.20" height="4.20" fill="#1f4e8c"/>
<text x="361.30" y="223.00" font-size="7.0" textLength="14.00" lengthAdjust="spacingAndGlyphs">BAX</text>
<rect x="404.30" y="218.50" width="4.20" height="4.20" fill="#5b2d7a"/>
<text x="412.50" y="223.00" font-size="7.0" textLength="11.50" lengthAdjust="spacingAndGlyphs">BID</text>
<rect x="455.40" y="218.50" width="4.20" height="4.20" fill="#6b3d14"/>
<text x="463.30" y="223.00" font-size="7.0" textLength="14.50" lengthAdjust="spacingAndGlyphs">BAD</text>
<rect x="352.80" y="230.20" width="4.20" height="4.20" fill="#5cb8e6"/>
<text x="361.30" y="234.70" font-size="7.0" textLength="14.00" lengthAdjust="spacingAndGlyphs">BAK</text>
<rect x="404.30" y="230.20" width="4.20" height="4.20" fill="#e0208a"/>
<text x="412.50" y="234.70" font-size="7.0" textLength="21.00" lengthAdjust="spacingAndGlyphs">PUMA</text>
<text x="53.75" y="360.30" font-size="9.2" textLength="122.50" lengthAdjust="spacingAndGlyphs">Molm13 <tspan font-style="italic">TP53</tspan>-R175H, 48 h</text>
<line x1="53.20" y1="363.80" x2="175.00" y2="363.80" stroke="#5a5a5a" stroke-width="1"/>
<line x1="48.30" y1="387.00" x2="48.30" y2="471.30" stroke="#2b2b2b" stroke-width="1"/>
<line x1="47.50" y1="470.80" x2="186.00" y2="470.80" stroke="#2b2b2b" stroke-width="1"/>
<line x1="45.20" y1="470.80" x2="48.30" y2="470.80" stroke="#2b2b2b" stroke-width="0.9"/>
<text x="41.70" y="473.20" font-size="8.2" text-anchor="end" textLength="4.30" lengthAdjust="spacingAndGlyphs">0</text>
<line x1="45.20" y1="444.12" x2="48.30" y2="444.12" stroke="#2b2b2b" stroke-width="0.9"/>
<text x="41.70" y="446.52" font-size="8.2" text-anchor="end" textLength="8.60" lengthAdjust="spacingAndGlyphs">25</text>
<line x1="45.20" y1="417.43" x2="48.30" y2="417.43" stroke="#2b2b2b" stroke-width="0.9"/>
<text x="41.70" y="419.83" font-size="8.2" text-anchor="end" textLength="8.60" lengthAdjust="spacingAndGlyphs">50</text>
<line x1="45.20" y1="390.75" x2="48.30" y2="390.75" stroke="#2b2b2b" stroke-width="0.9"/>
<text x="41.70" y="393.15" font-size="8.2" text-anchor="end" textLength="8.60" lengthAdjust="spacingAndGlyphs">75</text>
<line x1="48.60" y1="470.80" x2="48.60" y2="473.40" stroke="#2b2b2b" stroke-width="0.9"/>
<line x1="83.00" y1="470.80" x2="83.00" y2="473.40" stroke="#2b2b2b" stroke-width="0.9"/>
<line x1="117.00" y1="470.80" x2="117.00" y2="473.40" stroke="#2b2b2b" stroke-width="0.9"/>
<line x1="150.80" y1="470.80" x2="150.80" y2="473.40" stroke="#2b2b2b" stroke-width="0.9"/>
<line x1="184.60" y1="470.80" x2="184.60" y2="473.40" stroke="#2b2b2b" stroke-width="0.9"/>
<rect x="58.80" y="460.66" width="13.20" height="10.14" fill="#465267"/>
<line x1="65.40" y1="460.13" x2="65.40" y2="461.19" stroke="#222" stroke-width="0.8"/>
<line x1="63.40" y1="460.13" x2="67.40" y2="460.13" stroke="#222" stroke-width="0.8"/>
<line x1="63.40" y1="461.19" x2="67.40" y2="461.19" stroke="#222" stroke-width="0.8"/>
<rect x="93.00" y="441.98" width="13.20" height="28.82" fill="#465267"/>
<line x1="99.60" y1="439.31" x2="99.60" y2="444.65" stroke="#222" stroke-width="0.8"/>
<line x1="97.60" y1="439.31" x2="101.60" y2="439.31" stroke="#222" stroke-width="0.8"/>
<line x1="97.60" y1="444.65" x2="101.60" y2="444.65" stroke="#222" stroke-width="0.8"/>
<rect x="126.90" y="435.90" width="13.20" height="34.90" fill="#465267"/>
<line x1="133.50" y1="434.30" x2="133.50" y2="437.50" stroke="#222" stroke-width="0.8"/>
<line x1="131.50" y1="434.30" x2="135.50" y2="434.30" stroke="#222" stroke-width="0.8"/>
<line x1="131.50" y1="437.50" x2="135.50" y2="437.50" stroke="#222" stroke-width="0.8"/>
<rect x="161.40" y="398.75" width="13.20" height="72.05" fill="#465267"/>
<line x1="168.00" y1="396.83" x2="168.00" y2="400.68" stroke="#222" stroke-width="0.8"/>
<line x1="166.00" y1="396.83" x2="170.00" y2="396.83" stroke="#222" stroke-width="0.8"/>
<line x1="166.00" y1="400.68" x2="170.00" y2="400.68" stroke="#222" stroke-width="0.8"/>
<text transform="translate(27.10,463.30) rotate(-90)" font-size="8.8" textLength="68.40" lengthAdjust="spacingAndGlyphs">AnnV+/7AAD+ (%)</text>
<line x1="60.00" y1="376.80" x2="60.00" y2="434.00" stroke="#666" stroke-width="0.9"/>
<line x1="60.00" y1="377.10" x2="156.40" y2="377.10" stroke="#444" stroke-width="0.9"/>
<line x1="60.00" y1="386.30" x2="119.20" y2="386.30" stroke="#444" stroke-width="0.9"/>
<line x1="60.00" y1="396.20" x2="92.50" y2="396.20" stroke="#444" stroke-width="0.9"/>
<line x1="104.50" y1="394.80" x2="161.60" y2="394.80" stroke="#444" stroke-width="0.9"/>
<line x1="130.50" y1="404.40" x2="160.40" y2="404.40" stroke="#444" stroke-width="0.9"/>
<text x="72.50" y="375.00" font-size="8.5" textLength="35.50" lengthAdjust="spacingAndGlyphs"><tspan font-style="italic">P</tspan> &lt; .0001</text>
<text x="67.50" y="384.50" font-size="8.5" textLength="36.30" lengthAdjust="spacingAndGlyphs"><tspan font-style="italic">P</tspan> = .0001</text>
<text x="62.50" y="394.60" font-size="8.5" textLength="31.30" lengthAdjust="spacingAndGlyphs"><tspan font-style="italic">P</tspan> = .003</text>
<text x="121.00" y="393.00" font-size="8.5" textLength="36.00" lengthAdjust="spacingAndGlyphs"><tspan font-style="italic">P</tspan> = .0002</text>
<text x="122.30" y="402.70" font-size="8.5" textLength="35.00" lengthAdjust="spacingAndGlyphs"><tspan font-style="italic">P</tspan> = .0001</text>
<text transform="translate(67.80,480.60) rotate(-45)" x="0" y="0" text-anchor="end" font-size="8.4" textLength="18.00" lengthAdjust="spacingAndGlyphs">CON</text>
<text transform="translate(102.00,480.80) rotate(-45)" x="0" y="0" text-anchor="end" font-size="8.4" textLength="14.50" lengthAdjust="spacingAndGlyphs">VEN</text>
<text transform="translate(109.40,487.70) rotate(-45)" x="0" y="0" text-anchor="end" font-size="8.4" textLength="22.00" lengthAdjust="spacingAndGlyphs">10 nM</text>
<text transform="translate(135.90,480.80) rotate(-45)" x="0" y="0" text-anchor="end" font-size="8.4" textLength="9.80" lengthAdjust="spacingAndGlyphs">PU</text>
<text transform="translate(143.30,487.70) rotate(-45)" x="0" y="0" text-anchor="end" font-size="8.4" textLength="25.60" lengthAdjust="spacingAndGlyphs">150 nM</text>
<text transform="translate(170.40,480.80) rotate(-45)" x="0" y="0" text-anchor="end" font-size="8.4" textLength="29.40" lengthAdjust="spacingAndGlyphs">VEN+PU</text>
<text transform="translate(177.80,487.70) rotate(-45)" x="0" y="0" text-anchor="end" font-size="8.4" textLength="23.70" lengthAdjust="spacingAndGlyphs">10/150</text>
<text x="240.50" y="370.00" font-size="10" textLength="62.50" lengthAdjust="spacingAndGlyphs">Molm13, 48 h</text>
<line x1="239.50" y1="372.20" x2="303.80" y2="372.20" stroke="#5a5a5a" stroke-width="1"/>
<text x="258.80" y="410.30" font-size="6.8" textLength="16.20" lengthAdjust="spacingAndGlyphs">CON</text>
<text x="280.00" y="410.30" font-size="6.8" textLength="31.30" lengthAdjust="spacingAndGlyphs">MCL-1 OE</text>
<text x="232.00" y="422.70" font-size="8.5" textLength="26.80" lengthAdjust="spacingAndGlyphs">MCL-1</text>
<text x="232.00" y="439.60" font-size="8.0" textLength="25.50" lengthAdjust="spacingAndGlyphs">β-actin</text>
<text x="261.30" y="432.20" font-size="8.5" textLength="16.70" lengthAdjust="spacingAndGlyphs">1.00</text>
<text x="285.00" y="432.20" font-size="8.5" textLength="17.00" lengthAdjust="spacingAndGlyphs">2.50</text>
<rect x="259.50" y="415.00" width="44.50" height="9.00" fill="#f5f5f5"/>
<rect x="259.50" y="433.20" width="44.50" height="8.50" fill="#f5f5f5"/>
<rect x="262.0" y="418.3" width="16.8" height="2.6" rx="1.3" fill="#111" filter="url(#bl)"/>
<rect x="283.8" y="416.9" width="16.8" height="5.6" rx="2.5" fill="#0a0a0a" filter="url(#bl)"/>
<rect x="261.3" y="434.9" width="18.2" height="4.8" rx="2.2" fill="#0a0a0a" filter="url(#bl)"/>
<rect x="283.8" y="434.9" width="17.5" height="4.8" rx="2.2" fill="#0a0a0a" filter="url(#bl)"/>
<line x1="384.20" y1="365.50" x2="384.20" y2="471.30" stroke="#2b2b2b" stroke-width="1"/>
<line x1="384.20" y1="470.80" x2="507.50" y2="470.80" stroke="#2b2b2b" stroke-width="1"/>
<line x1="381.20" y1="470.80" x2="384.20" y2="470.80" stroke="#2b2b2b" stroke-width="0.9"/>
<text x="377.40" y="473.20" font-size="8.2" text-anchor="end" textLength="4.30" lengthAdjust="spacingAndGlyphs">0</text>
<line x1="381.20" y1="444.85" x2="384.20" y2="444.85" stroke="#2b2b2b" stroke-width="0.9"/>
<text x="377.40" y="447.25" font-size="8.2" text-anchor="end" textLength="8.60" lengthAdjust="spacingAndGlyphs">25</text>
<line x1="381.20" y1="418.90" x2="384.20" y2="418.90" stroke="#2b2b2b" stroke-width="0.9"/>
<text x="377.40" y="421.30" font-size="8.2" text-anchor="end" textLength="8.60" lengthAdjust="spacingAndGlyphs">50</text>
<line x1="381.20" y1="392.95" x2="384.20" y2="392.95" stroke="#2b2b2b" stroke-width="0.9"/>
<text x="377.40" y="395.35" font-size="8.2" text-anchor="end" textLength="8.60" lengthAdjust="spacingAndGlyphs">75</text>
<line x1="381.20" y1="367.00" x2="384.20" y2="367.00" stroke="#2b2b2b" stroke-width="0.9"/>
<text x="377.40" y="369.40" font-size="8.2" text-anchor="end" textLength="13.40" lengthAdjust="spacingAndGlyphs">100</text>
<line x1="384.50" y1="470.80" x2="384.50" y2="473.60" stroke="#2b2b2b" stroke-width="0.9"/>
<line x1="414.50" y1="470.80" x2="414.50" y2="473.60" stroke="#2b2b2b" stroke-width="0.9"/>
<line x1="444.50" y1="470.80" x2="444.50" y2="473.60" stroke="#2b2b2b" stroke-width="0.9"/>
<line x1="474.50" y1="470.80" x2="474.50" y2="473.60" stroke="#2b2b2b" stroke-width="0.9"/>
<line x1="505.00" y1="470.80" x2="505.00" y2="473.60" stroke="#2b2b2b" stroke-width="0.9"/>
<rect x="390.90" y="460.94" width="8.60" height="9.86" fill="#9a8cc8"/>
<rect x="399.50" y="460.73" width="8.60" height="10.07" fill="#3e495a"/>
<line x1="395.20" y1="460.63" x2="395.20" y2="461.25" stroke="#333" stroke-width="0.8"/>
<line x1="393.70" y1="460.63" x2="396.70" y2="460.63" stroke="#333" stroke-width="0.8"/>
<line x1="393.70" y1="461.25" x2="396.70" y2="461.25" stroke="#333" stroke-width="0.8"/>
<line x1="403.80" y1="460.42" x2="403.80" y2="461.04" stroke="#222" stroke-width="0.8"/>
<line x1="402.30" y1="460.42" x2="405.30" y2="460.42" stroke="#222" stroke-width="0.8"/>
<line x1="402.30" y1="461.04" x2="405.30" y2="461.04" stroke="#222" stroke-width="0.8"/>
<rect x="420.90" y="416.82" width="8.60" height="53.98" fill="#9a8cc8"/>
<rect x="429.50" y="444.33" width="8.60" height="26.47" fill="#3e495a"/>
<line x1="425.20" y1="415.27" x2="425.20" y2="418.38" stroke="#333" stroke-width="0.8"/>
<line x1="423.70" y1="415.27" x2="426.70" y2="415.27" stroke="#333" stroke-width="0.8"/>
<line x1="423.70" y1="418.38" x2="426.70" y2="418.38" stroke="#333" stroke-width="0.8"/>
<line x1="433.80" y1="443.60" x2="433.80" y2="445.06" stroke="#222" stroke-width="0.8"/>
<line x1="432.30" y1="443.60" x2="435.30" y2="443.60" stroke="#222" stroke-width="0.8"/>
<line x1="432.30" y1="445.06" x2="435.30" y2="445.06" stroke="#222" stroke-width="0.8"/>
<rect x="450.90" y="436.55" width="8.60" height="34.25" fill="#9a8cc8"/>
<rect x="459.50" y="442.77" width="8.60" height="28.03" fill="#3e495a"/>
<line x1="455.20" y1="435.51" x2="455.20" y2="437.58" stroke="#333" stroke-width="0.8"/>
<line x1="453.70" y1="435.51" x2="456.70" y2="435.51" stroke="#333" stroke-width="0.8"/>
<line x1="453.70" y1="437.58" x2="456.70" y2="437.58" stroke="#333" stroke-width="0.8"/>
<line x1="463.80" y1="441.74" x2="463.80" y2="443.81" stroke="#222" stroke-width="0.8"/>
<line x1="462.30" y1="441.74" x2="465.30" y2="441.74" stroke="#222" stroke-width="0.8"/>
<line x1="462.30" y1="443.81" x2="465.30" y2="443.81" stroke="#222" stroke-width="0.8"/>
<rect x="481.40" y="385.17" width="8.60" height="85.63" fill="#9a8cc8"/>
<rect x="490.00" y="412.15" width="8.60" height="58.65" fill="#3e495a"/>
<line x1="485.70" y1="384.44" x2="485.70" y2="385.89" stroke="#333" stroke-width="0.8"/>
<line x1="484.20" y1="384.44" x2="487.20" y2="384.44" stroke="#333" stroke-width="0.8"/>
<line x1="484.20" y1="385.89" x2="487.20" y2="385.89" stroke="#333" stroke-width="0.8"/>
<line x1="494.30" y1="410.60" x2="494.30" y2="413.71" stroke="#222" stroke-width="0.8"/>
<line x1="492.80" y1="410.60" x2="495.80" y2="410.60" stroke="#222" stroke-width="0.8"/>
<line x1="492.80" y1="413.71" x2="495.80" y2="413.71" stroke="#222" stroke-width="0.8"/>
<rect x="400.30" y="376.00" width="4.80" height="4.40" fill="#9a8cc8"/>
<rect x="400.30" y="384.40" width="4.80" height="4.40" fill="#3e495a"/>
<text x="407.00" y="380.60" font-size="8.2" textLength="32.30" lengthAdjust="spacingAndGlyphs">Scramble</text>
<text x="407.00" y="389.00" font-size="8.2" textLength="36.00" lengthAdjust="spacingAndGlyphs">MCL-1 OE</text>
<text transform="translate(359.00,442.50) rotate(-90)" font-size="8.8" textLength="58.80" lengthAdjust="spacingAndGlyphs">AnnV/7AAD + (%)</text>
<text x="413.80" y="405.00" font-size="8.5" textLength="30.00" lengthAdjust="spacingAndGlyphs"><tspan font-style="italic">P</tspan> &lt; .001</text>
<polyline points="423.80,413.00 423.80,407.50 433.00,407.50 433.00,435.00" fill="none" stroke="#555" stroke-width="0.8"/>
<text x="443.00" y="423.00" font-size="8.5" textLength="29.50" lengthAdjust="spacingAndGlyphs"><tspan font-style="italic">P</tspan> = .029</text>
<polyline points="452.50,433.00 452.50,425.50 463.80,425.50 463.80,441.00" fill="none" stroke="#555" stroke-width="0.8"/>
<text x="472.50" y="374.60" font-size="8.5" textLength="30.50" lengthAdjust="spacingAndGlyphs"><tspan font-style="italic">P</tspan> &lt; .001</text>
<polyline points="483.00,382.50 483.00,377.00 493.00,377.00 493.00,408.80" fill="none" stroke="#555" stroke-width="0.8"/>
<text transform="translate(401.60,480.10) rotate(-45)" x="0" y="0" text-anchor="end" font-size="8.4" textLength="18.00" lengthAdjust="spacingAndGlyphs">CON</text>
<text transform="translate(431.60,480.10) rotate(-45)" x="0" y="0" text-anchor="end" font-size="8.4" textLength="14.50" lengthAdjust="spacingAndGlyphs">VEN</text>
<text transform="translate(439.00,487.00) rotate(-45)" x="0" y="0" text-anchor="end" font-size="8.4" textLength="22.00" lengthAdjust="spacingAndGlyphs">10 nM</text>
<text transform="translate(461.60,480.10) rotate(-45)" x="0" y="0" text-anchor="end" font-size="8.4" textLength="9.80" lengthAdjust="spacingAndGlyphs">PU</text>
<text transform="translate(469.00,487.00) rotate(-45)" x="0" y="0" text-anchor="end" font-size="8.4" textLength="25.60" lengthAdjust="spacingAndGlyphs">150 nM</text>
<text transform="translate(492.10,480.10) rotate(-45)" x="0" y="0" text-anchor="end" font-size="8.4" textLength="29.40" lengthAdjust="spacingAndGlyphs">VEN+PU</text>
<text transform="translate(499.50,487.00) rotate(-45)" x="0" y="0" text-anchor="end" font-size="8.4" textLength="23.70" lengthAdjust="spacingAndGlyphs">10/150</text>
<text x="317.10" y="541.20" font-size="10" textLength="62.80" lengthAdjust="spacingAndGlyphs">Molm13, 48 h</text>
<line x1="315.00" y1="543.00" x2="381.40" y2="543.00" stroke="#5a5a5a" stroke-width="1"/>
<text x="80.50" y="590.50" font-size="8.4" textLength="33.30" lengthAdjust="spacingAndGlyphs"><tspan font-style="italic">TP53</tspan>-WT</text>
<text x="120.50" y="590.50" font-size="8.4" textLength="45.80" lengthAdjust="spacingAndGlyphs"><tspan font-style="italic">TP53</tspan>-R175H</text>
<line x1="78.80" y1="592.60" x2="116.30" y2="592.60" stroke="#5a5a5a" stroke-width="1"/>
<line x1="118.80" y1="592.60" x2="167.50" y2="592.60" stroke="#5a5a5a" stroke-width="1"/>
<text x="20.50" y="601.90" font-size="8.4" textLength="53.30" lengthAdjust="spacingAndGlyphs">500 nM siRNA</text>
<text x="78.80" y="602.00" font-size="7.0" textLength="15.70" lengthAdjust="spacingAndGlyphs">CON</text>
<text x="98.80" y="602.00" font-size="7.0" textLength="19.20" lengthAdjust="spacingAndGlyphs">MCL-1</text>
<text x="124.50" y="602.00" font-size="7.0" textLength="15.50" lengthAdjust="spacingAndGlyphs">CON</text>
<text x="144.50" y="602.00" font-size="7.0" textLength="19.30" lengthAdjust="spacingAndGlyphs">MCL-1</text>
<text x="48.80" y="614.80" font-size="8.4" textLength="24.20" lengthAdjust="spacingAndGlyphs">MCL-1</text>
<text x="47.00" y="632.50" font-size="7.9" textLength="26.00" lengthAdjust="spacingAndGlyphs">β-actin</text>
<text x="77.00" y="624.50" font-size="8.6" textLength="16.80" lengthAdjust="spacingAndGlyphs">1.00</text>
<text x="100.00" y="624.50" font-size="8.6" textLength="17.50" lengthAdjust="spacingAndGlyphs">0.30</text>
<text x="125.00" y="624.50" font-size="8.6" textLength="15.00" lengthAdjust="spacingAndGlyphs">1.00</text>
<text x="147.50" y="624.50" font-size="8.6" textLength="16.30" lengthAdjust="spacingAndGlyphs">0.30</text>
<rect x="76.00" y="606.00" width="92.00" height="9.80" fill="#f7f7f7"/>
<rect x="76.00" y="625.80" width="92.00" height="9.80" fill="#f7f7f7"/>
<rect x="77.0" y="607.6" width="18.00" height="6.20" rx="2.5" fill="#0a0a0a" fill-opacity="1.0" filter="url(#bl)"/>
<rect x="101.2" y="609.8" width="16.30" height="2.80" rx="2.5" fill="#0a0a0a" fill-opacity="0.55" filter="url(#bl)"/>
<rect x="123.5" y="608.0" width="19.50" height="6.60" rx="2.5" fill="#0a0a0a" fill-opacity="1.0" filter="url(#bl)"/>
<rect x="147.5" y="610.2" width="18.80" height="3.60" rx="2.5" fill="#0a0a0a" fill-opacity="0.85" filter="url(#bl)"/>
<rect x="77.0" y="627.2" width="17.50" height="5.80" rx="2.5" fill="#0a0a0a" filter="url(#bl)"/>
<rect x="100.0" y="627.4" width="18.00" height="5.60" rx="2.5" fill="#0a0a0a" filter="url(#bl)"/>
<rect x="123.5" y="628.0" width="19.00" height="6.80" rx="2.5" fill="#0a0a0a" filter="url(#bl)"/>
<rect x="147.5" y="628.0" width="18.80" height="5.80" rx="2.5" fill="#0a0a0a" filter="url(#bl)"/>
<line x1="213.00" y1="560.30" x2="213.00" y2="666.80" stroke="#2b2b2b" stroke-width="1"/>
<line x1="213.00" y1="666.30" x2="338.80" y2="666.30" stroke="#2b2b2b" stroke-width="1"/>
<line x1="210.20" y1="666.30" x2="213.00" y2="666.30" stroke="#2b2b2b" stroke-width="0.9"/>
<text x="206.10" y="668.70" font-size="8.2" text-anchor="end" textLength="4.30" lengthAdjust="spacingAndGlyphs">0</text>
<line x1="210.20" y1="640.67" x2="213.00" y2="640.67" stroke="#2b2b2b" stroke-width="0.9"/>
<text x="206.10" y="643.07" font-size="8.2" text-anchor="end" textLength="8.60" lengthAdjust="spacingAndGlyphs">25</text>
<line x1="210.20" y1="615.05" x2="213.00" y2="615.05" stroke="#2b2b2b" stroke-width="0.9"/>
<text x="206.10" y="617.45" font-size="8.2" text-anchor="end" textLength="8.60" lengthAdjust="spacingAndGlyphs">50</text>
<line x1="210.20" y1="589.42" x2="213.00" y2="589.42" stroke="#2b2b2b" stroke-width="0.9"/>
<text x="206.10" y="591.82" font-size="8.2" text-anchor="end" textLength="8.60" lengthAdjust="spacingAndGlyphs">75</text>
<line x1="210.20" y1="563.80" x2="213.00" y2="563.80" stroke="#2b2b2b" stroke-width="0.9"/>
<text x="206.10" y="566.20" font-size="8.2" text-anchor="end" textLength="13.40" lengthAdjust="spacingAndGlyphs">100</text>
<line x1="213.00" y1="666.30" x2="213.00" y2="668.90" stroke="#2b2b2b" stroke-width="0.9"/>
<line x1="243.80" y1="666.30" x2="243.80" y2="668.90" stroke="#2b2b2b" stroke-width="0.9"/>
<line x1="275.00" y1="666.30" x2="275.00" y2="668.90" stroke="#2b2b2b" stroke-width="0.9"/>
<line x1="306.00" y1="666.30" x2="306.00" y2="668.90" stroke="#2b2b2b" stroke-width="0.9"/>
<line x1="337.00" y1="666.30" x2="337.00" y2="668.90" stroke="#2b2b2b" stroke-width="0.9"/>
<rect x="219.30" y="650.41" width="8.70" height="15.89" fill="#3e495a"/>
<rect x="228.00" y="650.41" width="8.70" height="15.89" fill="#9a8cc8"/>
<line x1="223.65" y1="649.90" x2="223.65" y2="650.92" stroke="#222" stroke-width="0.8"/>
<line x1="222.15" y1="649.90" x2="225.15" y2="649.90" stroke="#222" stroke-width="0.8"/>
<line x1="222.15" y1="650.92" x2="225.15" y2="650.92" stroke="#222" stroke-width="0.8"/>
<line x1="232.35" y1="648.87" x2="232.35" y2="651.95" stroke="#333" stroke-width="0.8"/>
<line x1="230.85" y1="648.87" x2="233.85" y2="648.87" stroke="#333" stroke-width="0.8"/>
<line x1="230.85" y1="651.95" x2="233.85" y2="651.95" stroke="#333" stroke-width="0.8"/>
<rect x="250.10" y="611.97" width="8.70" height="54.33" fill="#3e495a"/>
<rect x="258.80" y="597.62" width="8.70" height="68.67" fill="#9a8cc8"/>
<line x1="254.45" y1="611.46" x2="254.45" y2="612.49" stroke="#222" stroke-width="0.8"/>
<line x1="252.95" y1="611.46" x2="255.95" y2="611.46" stroke="#222" stroke-width="0.8"/>
<line x1="252.95" y1="612.49" x2="255.95" y2="612.49" stroke="#222" stroke-width="0.8"/>
<line x1="263.15" y1="596.09" x2="263.15" y2="599.16" stroke="#333" stroke-width="0.8"/>
<line x1="261.65" y1="596.09" x2="264.65" y2="596.09" stroke="#333" stroke-width="0.8"/>
<line x1="261.65" y1="599.16" x2="264.65" y2="599.16" stroke="#333" stroke-width="0.8"/>
<rect x="280.80" y="619.15" width="8.70" height="47.15" fill="#3e495a"/>
<rect x="289.50" y="599.67" width="8.70" height="66.62" fill="#9a8cc8"/>
<line x1="285.15" y1="617.10" x2="285.15" y2="621.20" stroke="#222" stroke-width="0.8"/>
<line x1="283.65" y1="617.10" x2="286.65" y2="617.10" stroke="#222" stroke-width="0.8"/>
<line x1="283.65" y1="621.20" x2="286.65" y2="621.20" stroke="#222" stroke-width="0.8"/>
<line x1="293.85" y1="598.65" x2="293.85" y2="600.70" stroke="#333" stroke-width="0.8"/>
<line x1="292.35" y1="598.65" x2="295.35" y2="598.65" stroke="#333" stroke-width="0.8"/>
<line x1="292.35" y1="600.70" x2="295.35" y2="600.70" stroke="#333" stroke-width="0.8"/>
<rect x="312.50" y="590.45" width="8.70" height="75.85" fill="#3e495a"/>
<rect x="321.20" y="579.17" width="8.70" height="87.12" fill="#9a8cc8"/>
<line x1="316.85" y1="588.40" x2="316.85" y2="592.50" stroke="#222" stroke-width="0.8"/>
<line x1="315.35" y1="588.40" x2="318.35" y2="588.40" stroke="#222" stroke-width="0.8"/>
<line x1="315.35" y1="592.50" x2="318.35" y2="592.50" stroke="#222" stroke-width="0.8"/>
<line x1="325.55" y1="578.15" x2="325.55" y2="580.20" stroke="#333" stroke-width="0.8"/>
<line x1="324.05" y1="578.15" x2="327.05" y2="578.15" stroke="#333" stroke-width="0.8"/>
<line x1="324.05" y1="580.20" x2="327.05" y2="580.20" stroke="#333" stroke-width="0.8"/>
<rect x="217.30" y="563.30" width="5.00" height="4.60" fill="#3e495a"/>
<rect x="217.30" y="571.90" width="5.00" height="4.60" fill="#9a8cc8"/>
<text x="225.50" y="568.40" font-size="8.2" textLength="42.00" lengthAdjust="spacingAndGlyphs">CON siRNA</text>
<text x="225.50" y="576.90" font-size="8.2" textLength="47.50" lengthAdjust="spacingAndGlyphs">MCL-1 siRNA</text>
<text x="258.80" y="552.20" font-size="8.2" textLength="33.70" lengthAdjust="spacingAndGlyphs"><tspan font-style="italic">TP53</tspan><tspan font-style="italic">-WT</tspan></text>
<line x1="255.00" y1="554.60" x2="296.30" y2="554.60" stroke="#5a5a5a" stroke-width="1"/>
<text transform="translate(187.10,644.50) rotate(-90)" font-size="8.8" textLength="58.80" lengthAdjust="spacingAndGlyphs">AnnV/7AAD + (%)</text>
<text x="241.30" y="588.60" font-size="8.5" textLength="30.00" lengthAdjust="spacingAndGlyphs"><tspan font-style="italic">P</tspan> = .001</text>
<polyline points="253.80,606.00 253.80,590.60 262.50,590.60 262.50,595.50" fill="none" stroke="#555" stroke-width="0.8"/>
<text x="277.50" y="588.60" font-size="8.5" textLength="30.00" lengthAdjust="spacingAndGlyphs"><tspan font-style="italic">P</tspan> &lt; .001</text>
<polyline points="285.50,613.00 285.50,593.00 293.80,593.00 293.80,597.00" fill="none" stroke="#555" stroke-width="0.8"/>
<text x="310.00" y="570.50" font-size="8.5" textLength="25.00" lengthAdjust="spacingAndGlyphs"><tspan font-style="italic">P</tspan> = .01</text>
<polyline points="316.30,587.50 316.30,575.00 325.00,575.00 325.00,578.00" fill="none" stroke="#555" stroke-width="0.8"/>
<text transform="translate(230.90,676.80) rotate(-45)" x="0" y="0" text-anchor="end" font-size="8.4" textLength="18.00" lengthAdjust="spacingAndGlyphs">CON</text>
<text transform="translate(261.70,676.80) rotate(-45)" x="0" y="0" text-anchor="end" font-size="8.4" textLength="14.50" lengthAdjust="spacingAndGlyphs">VEN</text>
<text transform="translate(269.10,683.70) rotate(-45)" x="0" y="0" text-anchor="end" font-size="8.4" textLength="22.00" lengthAdjust="spacingAndGlyphs">10 nM</text>
<text transform="translate(292.40,676.80) rotate(-45)" x="0" y="0" text-anchor="end" font-size="8.4" textLength="9.80" lengthAdjust="spacingAndGlyphs">PU</text>
<text transform="translate(299.80,683.70) rotate(-45)" x="0" y="0" text-anchor="end" font-size="8.4" textLength="25.60" lengthAdjust="spacingAndGlyphs">150 nM</text>
<text transform="translate(324.10,676.80) rotate(-45)" x="0" y="0" text-anchor="end" font-size="8.4" textLength="29.40" lengthAdjust="spacingAndGlyphs">VEN+PU</text>
<text transform="translate(331.50,683.70) rotate(-45)" x="0" y="0" text-anchor="end" font-size="8.4" textLength="23.70" lengthAdjust="spacingAndGlyphs">10/150</text>
<line x1="384.20" y1="563.80" x2="384.20" y2="667.50" stroke="#2b2b2b" stroke-width="1"/>
<line x1="384.20" y1="667.00" x2="511.30" y2="667.00" stroke="#2b2b2b" stroke-width="1"/>
<line x1="381.40" y1="667.00" x2="384.20" y2="667.00" stroke="#2b2b2b" stroke-width="0.9"/>
<text x="377.30" y="669.40" font-size="8.2" text-anchor="end" textLength="4.30" lengthAdjust="spacingAndGlyphs">0</text>
<line x1="381.40" y1="641.62" x2="384.20" y2="641.62" stroke="#2b2b2b" stroke-width="0.9"/>
<text x="377.30" y="644.02" font-size="8.2" text-anchor="end" textLength="8.60" lengthAdjust="spacingAndGlyphs">25</text>
<line x1="381.40" y1="616.25" x2="384.20" y2="616.25" stroke="#2b2b2b" stroke-width="0.9"/>
<text x="377.30" y="618.65" font-size="8.2" text-anchor="end" textLength="8.60" lengthAdjust="spacingAndGlyphs">50</text>
<line x1="381.40" y1="590.88" x2="384.20" y2="590.88" stroke="#2b2b2b" stroke-width="0.9"/>
<text x="377.30" y="593.27" font-size="8.2" text-anchor="end" textLength="8.60" lengthAdjust="spacingAndGlyphs">75</text>
<line x1="381.40" y1="565.50" x2="384.20" y2="565.50" stroke="#2b2b2b" stroke-width="0.9"/>
<text x="377.30" y="567.90" font-size="8.2" text-anchor="end" textLength="13.40" lengthAdjust="spacingAndGlyphs">100</text>
<line x1="384.50" y1="667.00" x2="384.50" y2="669.60" stroke="#2b2b2b" stroke-width="0.9"/>
<line x1="415.50" y1="667.00" x2="415.50" y2="669.60" stroke="#2b2b2b" stroke-width="0.9"/>
<line x1="446.30" y1="667.00" x2="446.30" y2="669.60" stroke="#2b2b2b" stroke-width="0.9"/>
<line x1="477.30" y1="667.00" x2="477.30" y2="669.60" stroke="#2b2b2b" stroke-width="0.9"/>
<line x1="508.80" y1="667.00" x2="508.80" y2="669.60" stroke="#2b2b2b" stroke-width="0.9"/>
<rect x="390.80" y="654.82" width="8.70" height="12.18" fill="#3e495a"/>
<rect x="399.50" y="646.70" width="8.70" height="20.30" fill="#9a8cc8"/>
<line x1="395.15" y1="653.30" x2="395.15" y2="656.34" stroke="#222" stroke-width="0.8"/>
<line x1="393.65" y1="653.30" x2="396.65" y2="653.30" stroke="#222" stroke-width="0.8"/>
<line x1="393.65" y1="656.34" x2="396.65" y2="656.34" stroke="#222" stroke-width="0.8"/>
<line x1="403.85" y1="645.69" x2="403.85" y2="647.72" stroke="#333" stroke-width="0.8"/>
<line x1="402.35" y1="645.69" x2="405.35" y2="645.69" stroke="#333" stroke-width="0.8"/>
<line x1="402.35" y1="647.72" x2="405.35" y2="647.72" stroke="#333" stroke-width="0.8"/>
<rect x="421.80" y="634.52" width="8.70" height="32.48" fill="#3e495a"/>
<rect x="430.50" y="609.14" width="8.70" height="57.86" fill="#9a8cc8"/>
<line x1="426.15" y1="629.44" x2="426.15" y2="639.60" stroke="#222" stroke-width="0.8"/>
<line x1="424.65" y1="629.44" x2="427.65" y2="629.44" stroke="#222" stroke-width="0.8"/>
<line x1="424.65" y1="639.60" x2="427.65" y2="639.60" stroke="#222" stroke-width="0.8"/>
<line x1="434.85" y1="608.13" x2="434.85" y2="610.16" stroke="#333" stroke-width="0.8"/>
<line x1="433.35" y1="608.13" x2="436.35" y2="608.13" stroke="#333" stroke-width="0.8"/>
<line x1="433.35" y1="610.16" x2="436.35" y2="610.16" stroke="#333" stroke-width="0.8"/>
<rect x="452.80" y="636.55" width="8.70" height="30.45" fill="#3e495a"/>
<rect x="461.50" y="592.90" width="8.70" height="74.10" fill="#9a8cc8"/>
<line x1="457.15" y1="634.52" x2="457.15" y2="638.58" stroke="#222" stroke-width="0.8"/>
<line x1="455.65" y1="634.52" x2="458.65" y2="634.52" stroke="#222" stroke-width="0.8"/>
<line x1="455.65" y1="638.58" x2="458.65" y2="638.58" stroke="#222" stroke-width="0.8"/>
<line x1="465.85" y1="591.38" x2="465.85" y2="594.43" stroke="#333" stroke-width="0.8"/>
<line x1="464.35" y1="591.38" x2="467.35" y2="591.38" stroke="#333" stroke-width="0.8"/>
<line x1="464.35" y1="594.43" x2="467.35" y2="594.43" stroke="#333" stroke-width="0.8"/>
<rect x="484.30" y="605.09" width="8.70" height="61.91" fill="#3e495a"/>
<rect x="493.00" y="575.65" width="8.70" height="91.35" fill="#9a8cc8"/>
<line x1="488.65" y1="603.56" x2="488.65" y2="606.61" stroke="#222" stroke-width="0.8"/>
<line x1="487.15" y1="603.56" x2="490.15" y2="603.56" stroke="#222" stroke-width="0.8"/>
<line x1="487.15" y1="606.61" x2="490.15" y2="606.61" stroke="#222" stroke-width="0.8"/>
<line x1="497.35" y1="574.63" x2="497.35" y2="576.66" stroke="#333" stroke-width="0.8"/>
<line x1="495.85" y1="574.63" x2="498.85" y2="574.63" stroke="#333" stroke-width="0.8"/>
<line x1="495.85" y1="576.66" x2="498.85" y2="576.66" stroke="#333" stroke-width="0.8"/>
<rect x="389.80" y="563.30" width="5.00" height="4.60" fill="#3e495a"/>
<rect x="389.80" y="571.90" width="5.00" height="4.60" fill="#9a8cc8"/>
<text x="398.00" y="568.40" font-size="8.2" textLength="42.00" lengthAdjust="spacingAndGlyphs">CON siRNA</text>
<text x="398.00" y="576.90" font-size="8.2" textLength="47.50" lengthAdjust="spacingAndGlyphs">MCL-1 siRNA</text>
<text x="425.00" y="552.20" font-size="8.2" textLength="47.50" lengthAdjust="spacingAndGlyphs"><tspan font-style="italic">TP53</tspan>-R175H</text>
<line x1="420.00" y1="554.20" x2="476.30" y2="554.20" stroke="#5a5a5a" stroke-width="1"/>
<text transform="translate(358.40,646.30) rotate(-90)" font-size="8.8" textLength="58.80" lengthAdjust="spacingAndGlyphs">AnnV/7AAD + (%)</text>
<text x="386.30" y="635.50" font-size="8.5" textLength="30.70" lengthAdjust="spacingAndGlyphs"><tspan font-style="italic">P</tspan> = .007</text>
<polyline points="393.80,648.00 393.80,638.80 401.30,638.80 401.30,645.00" fill="none" stroke="#555" stroke-width="0.8"/>
<text x="407.50" y="600.00" font-size="8.5" textLength="32.50" lengthAdjust="spacingAndGlyphs"><tspan font-style="italic">P</tspan> = .008</text>
<polyline points="425.00,625.00 425.00,603.00 433.00,603.00 433.00,608.00" fill="none" stroke="#555" stroke-width="0.8"/>
<text x="447.00" y="585.50" font-size="8.5" textLength="30.00" lengthAdjust="spacingAndGlyphs"><tspan font-style="italic">P</tspan> &lt; .001</text>
<polyline points="457.00,622.50 457.00,588.00 465.50,588.00 465.50,591.30" fill="none" stroke="#555" stroke-width="0.8"/>
<text x="482.00" y="569.80" font-size="8.5" textLength="30.50" lengthAdjust="spacingAndGlyphs"><tspan font-style="italic">P</tspan> &lt; .001</text>
<polyline points="489.50,601.30 489.50,571.30 497.50,571.30 497.50,575.00" fill="none" stroke="#555" stroke-width="0.8"/>
<text transform="translate(402.40,677.30) rotate(-45)" x="0" y="0" text-anchor="end" font-size="8.4" textLength="18.00" lengthAdjust="spacingAndGlyphs">CON</text>
<text transform="translate(433.40,677.30) rotate(-45)" x="0" y="0" text-anchor="end" font-size="8.4" textLength="14.50" lengthAdjust="spacingAndGlyphs">VEN</text>
<text transform="translate(440.80,684.20) rotate(-45)" x="0" y="0" text-anchor="end" font-size="8.4" textLength="22.00" lengthAdjust="spacingAndGlyphs">10 nM</text>
<text transform="translate(464.40,677.30) rotate(-45)" x="0" y="0" text-anchor="end" font-size="8.4" textLength="9.80" lengthAdjust="spacingAndGlyphs">PU</text>
<text transform="translate(471.80,684.20) rotate(-45)" x="0" y="0" text-anchor="end" font-size="8.4" textLength="25.60" lengthAdjust="spacingAndGlyphs">150 nM</text>
<text transform="translate(495.90,677.30) rotate(-45)" x="0" y="0" text-anchor="end" font-size="8.4" textLength="29.40" lengthAdjust="spacingAndGlyphs">VEN+PU</text>
<text transform="translate(503.30,684.20) rotate(-45)" x="0" y="0" text-anchor="end" font-size="8.4" textLength="23.70" lengthAdjust="spacingAndGlyphs">10/150</text>
<rect x="0.5" y="0.5" width="519" height="715" fill="none" stroke="#4a4a4a" stroke-width="1"/>
</svg>
</div>
</body></html>
